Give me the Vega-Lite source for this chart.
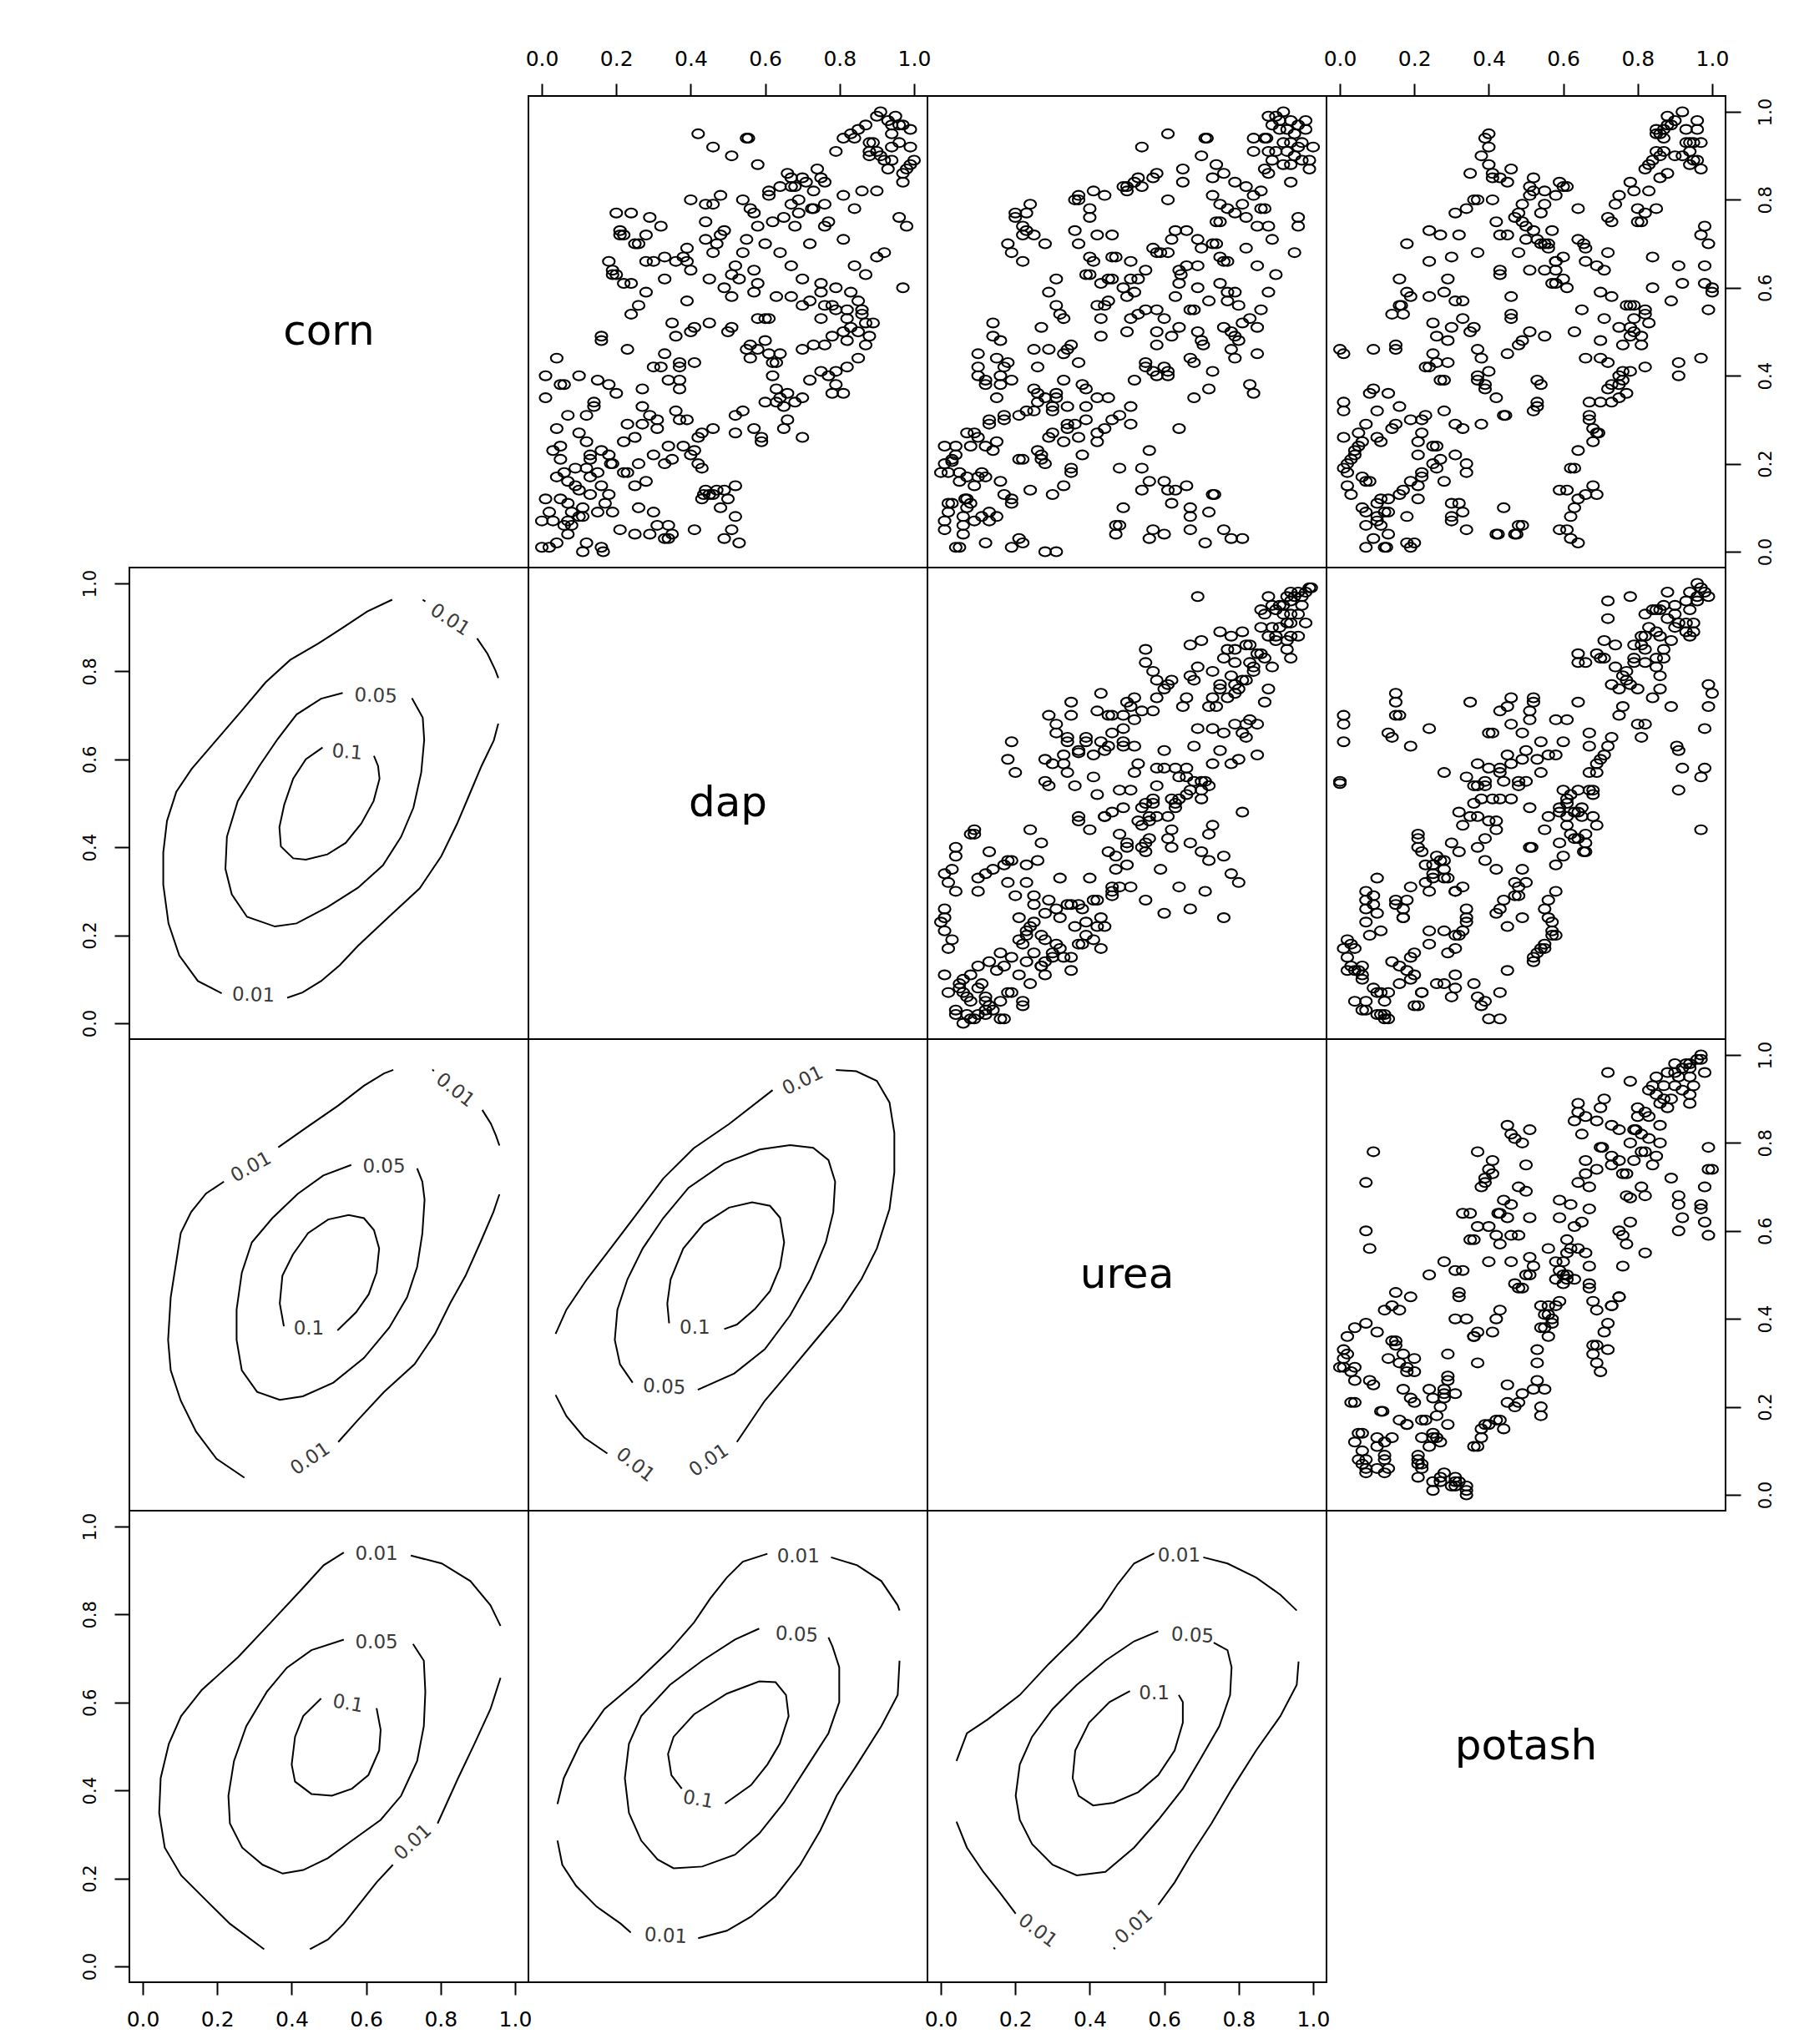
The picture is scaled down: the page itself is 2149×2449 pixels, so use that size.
{
"$schema":"https://vega.github.io/schema/vega-lite/v6.json",
"background":"white",
"padding":{"left":96,"top":57,"right":5,"bottom":5},
"config":{"view":{"stroke":"black","strokeWidth":2},"font":"DejaVu Sans",
"axis":{"domain":false,"grid":false,"ticks":true,"tickColor":"black","tickWidth":2,"labelColor":"black","labelFont":"DejaVu Sans","labelFlush":false,"labelOverlap":false},
"axisX":{"labelFontSize":25,"tickSize":15,"labelPadding":17},
"axisY":{"labelFontSize":21,"tickSize":18,"labelPadding":19,"labelAngle":-90}},
"datasets":{
"s12":[{"x":0.91,"y":1},{"x":0.9,"y":0.99},{"x":0.95,"y":0.99},{"x":0.97,"y":0.97},{"x":0.93,"y":0.98},{"x":0.94,"y":0.97},{"x":0.96,"y":0.97},{"x":0.99,"y":0.96},{"x":0.87,"y":0.97},{"x":0.85,"y":0.96},{"x":0.83,"y":0.95},{"x":0.81,"y":0.94},{"x":0.84,"y":0.94},{"x":0.94,"y":0.95},{"x":0.96,"y":0.93},{"x":0.99,"y":0.92},{"x":0.94,"y":0.92},{"x":0.88,"y":0.93},{"x":0.89,"y":0.93},{"x":0.88,"y":0.91},{"x":0.9,"y":0.91},{"x":0.88,"y":0.9},{"x":0.91,"y":0.9},{"x":0.92,"y":0.89},{"x":0.94,"y":0.89},{"x":0.93,"y":0.87},{"x":1,"y":0.89},{"x":0.99,"y":0.88},{"x":0.98,"y":0.87},{"x":0.97,"y":0.86},{"x":0.97,"y":0.84},{"x":0.79,"y":0.91},{"x":0.42,"y":0.95},{"x":0.46,"y":0.92},{"x":0.51,"y":0.9},{"x":0.55,"y":0.94},{"x":0.555,"y":0.94},{"x":0.58,"y":0.88},{"x":0.66,"y":0.86},{"x":0.67,"y":0.85},{"x":0.7,"y":0.85},{"x":0.71,"y":0.84},{"x":0.74,"y":0.87},{"x":0.75,"y":0.85},{"x":0.76,"y":0.84},{"x":0.68,"y":0.83},{"x":0.67,"y":0.83},{"x":0.73,"y":0.82},{"x":0.64,"y":0.83},{"x":0.61,"y":0.82},{"x":0.61,"y":0.81},{"x":0.69,"y":0.8},{"x":0.67,"y":0.79},{"x":0.81,"y":0.81},{"x":0.86,"y":0.82},{"x":0.9,"y":0.82},{"x":0.84,"y":0.78},{"x":0.76,"y":0.79},{"x":0.73,"y":0.78},{"x":0.725,"y":0.78},{"x":0.96,"y":0.76},{"x":0.98,"y":0.74},{"x":0.77,"y":0.75},{"x":0.76,"y":0.74},{"x":0.65,"y":0.76},{"x":0.62,"y":0.75},{"x":0.69,"y":0.77},{"x":0.68,"y":0.74},{"x":0.58,"y":0.74},{"x":0.57,"y":0.77},{"x":0.56,"y":0.78},{"x":0.54,"y":0.8},{"x":0.48,"y":0.81},{"x":0.46,"y":0.79},{"x":0.44,"y":0.79},{"x":0.4,"y":0.8},{"x":0.2,"y":0.77},{"x":0.24,"y":0.77},{"x":0.29,"y":0.76},{"x":0.32,"y":0.74},{"x":0.21,"y":0.73},{"x":0.21,"y":0.72},{"x":0.22,"y":0.72},{"x":0.28,"y":0.72},{"x":0.26,"y":0.7},{"x":0.25,"y":0.7},{"x":0.44,"y":0.75},{"x":0.44,"y":0.71},{"x":0.48,"y":0.72},{"x":0.49,"y":0.73},{"x":0.55,"y":0.71},{"x":0.6,"y":0.7},{"x":0.72,"y":0.7},{"x":0.81,"y":0.71},{"x":0.92,"y":0.68},{"x":0.9,"y":0.67},{"x":0.64,"y":0.68},{"x":0.54,"y":0.68},{"x":0.47,"y":0.7},{"x":0.46,"y":0.68},{"x":0.39,"y":0.69},{"x":0.38,"y":0.67},{"x":0.39,"y":0.66},{"x":0.36,"y":0.66},{"x":0.33,"y":0.67},{"x":0.3,"y":0.66},{"x":0.28,"y":0.66},{"x":0.18,"y":0.66},{"x":0.19,"y":0.64},{"x":0.2,"y":0.63},{"x":0.22,"y":0.61},{"x":0.24,"y":0.61},{"x":0.19,"y":0.63},{"x":0.33,"y":0.62},{"x":0.4,"y":0.64},{"x":0.45,"y":0.62},{"x":0.52,"y":0.65},{"x":0.51,"y":0.63},{"x":0.53,"y":0.62},{"x":0.57,"y":0.64},{"x":0.67,"y":0.65},{"x":0.7,"y":0.62},{"x":0.75,"y":0.61},{"x":0.84,"y":0.65},{"x":0.87,"y":0.63},{"x":0.97,"y":0.6},{"x":0.28,"y":0.59},{"x":0.26,"y":0.56},{"x":0.24,"y":0.54},{"x":0.39,"y":0.57},{"x":0.49,"y":0.6},{"x":0.51,"y":0.58},{"x":0.57,"y":0.59},{"x":0.58,"y":0.61},{"x":0.63,"y":0.58},{"x":0.67,"y":0.58},{"x":0.75,"y":0.59},{"x":0.79,"y":0.6},{"x":0.83,"y":0.59},{"x":0.85,"y":0.57},{"x":0.72,"y":0.57},{"x":0.7,"y":0.56},{"x":0.76,"y":0.56},{"x":0.78,"y":0.56},{"x":0.79,"y":0.55},{"x":0.82,"y":0.55},{"x":0.75,"y":0.53},{"x":0.86,"y":0.55},{"x":0.86,"y":0.54},{"x":0.82,"y":0.53},{"x":0.89,"y":0.52},{"x":0.87,"y":0.52},{"x":0.83,"y":0.51},{"x":0.81,"y":0.5},{"x":0.85,"y":0.5},{"x":0.78,"y":0.49},{"x":0.82,"y":0.48},{"x":0.88,"y":0.49},{"x":0.87,"y":0.47},{"x":0.85,"y":0.44},{"x":0.76,"y":0.47},{"x":0.73,"y":0.47},{"x":0.7,"y":0.46},{"x":0.6,"y":0.53},{"x":0.61,"y":0.53},{"x":0.58,"y":0.53},{"x":0.45,"y":0.52},{"x":0.41,"y":0.51},{"x":0.4,"y":0.5},{"x":0.35,"y":0.52},{"x":0.36,"y":0.49},{"x":0.51,"y":0.51},{"x":0.5,"y":0.5},{"x":0.16,"y":0.49},{"x":0.16,"y":0.48},{"x":0.23,"y":0.46},{"x":0.56,"y":0.47},{"x":0.55,"y":0.46},{"x":0.6,"y":0.48},{"x":0.58,"y":0.46},{"x":0.61,"y":0.45},{"x":0.64,"y":0.45},{"x":0.56,"y":0.44},{"x":0.63,"y":0.43},{"x":0.62,"y":0.43},{"x":0.62,"y":0.4},{"x":0.33,"y":0.45},{"x":0.37,"y":0.43},{"x":0.37,"y":0.42},{"x":0.41,"y":0.43},{"x":0.3,"y":0.42},{"x":0.32,"y":0.42},{"x":0.34,"y":0.39},{"x":0.37,"y":0.39},{"x":0.37,"y":0.37},{"x":0.75,"y":0.41},{"x":0.77,"y":0.4},{"x":0.79,"y":0.41},{"x":0.82,"y":0.42},{"x":0.72,"y":0.39},{"x":0.79,"y":0.38},{"x":0.81,"y":0.36},{"x":0.78,"y":0.36},{"x":0.7,"y":0.35},{"x":0.63,"y":0.37},{"x":0.66,"y":0.36},{"x":0.64,"y":0.35},{"x":0.6,"y":0.34},{"x":0.63,"y":0.34},{"x":0.65,"y":0.33},{"x":0.68,"y":0.34},{"x":0.66,"y":0.3},{"x":0.65,"y":0.28},{"x":0.7,"y":0.26},{"x":0.59,"y":0.26},{"x":0.59,"y":0.25},{"x":0.57,"y":0.28},{"x":0.54,"y":0.32},{"x":0.52,"y":0.31},{"x":0.52,"y":0.27},{"x":0.46,"y":0.28},{"x":0.43,"y":0.27},{"x":0.42,"y":0.26},{"x":0.41,"y":0.23},{"x":0.4,"y":0.22},{"x":0.42,"y":0.2},{"x":0.43,"y":0.19},{"x":0.38,"y":0.24},{"x":0.34,"y":0.24},{"x":0.35,"y":0.21},{"x":0.33,"y":0.2},{"x":0.3,"y":0.22},{"x":0.27,"y":0.37},{"x":0.04,"y":0.44},{"x":0.01,"y":0.4},{"x":0.01,"y":0.35},{"x":0.06,"y":0.38},{"x":0.05,"y":0.38},{"x":0.1,"y":0.4},{"x":0.15,"y":0.39},{"x":0.18,"y":0.38},{"x":0.2,"y":0.36},{"x":0.14,"y":0.34},{"x":0.14,"y":0.33},{"x":0.07,"y":0.31},{"x":0.12,"y":0.31},{"x":0.04,"y":0.28},{"x":0.1,"y":0.27},{"x":0.12,"y":0.25},{"x":0.05,"y":0.24},{"x":0.03,"y":0.23},{"x":0.05,"y":0.21},{"x":0.22,"y":0.25},{"x":0.25,"y":0.26},{"x":0.27,"y":0.33},{"x":0.29,"y":0.31},{"x":0.31,"y":0.3},{"x":0.31,"y":0.28},{"x":0.27,"y":0.29},{"x":0.23,"y":0.29},{"x":0.36,"y":0.32},{"x":0.37,"y":0.3},{"x":0.39,"y":0.3},{"x":0.18,"y":0.22},{"x":0.16,"y":0.23},{"x":0.13,"y":0.22},{"x":0.13,"y":0.21},{"x":0.12,"y":0.19},{"x":0.19,"y":0.2},{"x":0.185,"y":0.2},{"x":0.09,"y":0.19},{"x":0.06,"y":0.18},{"x":0.04,"y":0.17},{"x":0.07,"y":0.16},{"x":0.13,"y":0.17},{"x":0.09,"y":0.15},{"x":0.15,"y":0.18},{"x":0.1,"y":0.14},{"x":0.16,"y":0.15},{"x":0.18,"y":0.13},{"x":0.13,"y":0.13},{"x":0.26,"y":0.2},{"x":0.23,"y":0.18},{"x":0.22,"y":0.18},{"x":0.28,"y":0.16},{"x":0.25,"y":0.15},{"x":0.01,"y":0.12},{"x":0.05,"y":0.12},{"x":0.07,"y":0.11},{"x":0.11,"y":0.1},{"x":0.17,"y":0.11},{"x":0.19,"y":0.09},{"x":0.15,"y":0.09},{"x":0.08,"y":0.09},{"x":0.1,"y":0.08},{"x":0.11,"y":0.08},{"x":0.02,"y":0.09},{"x":0,"y":0.07},{"x":0.03,"y":0.07},{"x":0.07,"y":0.07},{"x":0.08,"y":0.06},{"x":0.06,"y":0.06},{"x":0.07,"y":0.04},{"x":0.12,"y":0.02},{"x":0.11,"y":0},{"x":0.16,"y":0.01},{"x":0.165,"y":0},{"x":0,"y":0.01},{"x":0.02,"y":0.01},{"x":0.04,"y":0.02},{"x":0.21,"y":0.05},{"x":0.25,"y":0.04},{"x":0.26,"y":0.1},{"x":0.29,"y":0.04},{"x":0.31,"y":0.06},{"x":0.3,"y":0.09},{"x":0.33,"y":0.03},{"x":0.34,"y":0.03},{"x":0.35,"y":0.04},{"x":0.34,"y":0.06},{"x":0.41,"y":0.05},{"x":0.43,"y":0.12},{"x":0.44,"y":0.14},{"x":0.46,"y":0.13},{"x":0.47,"y":0.14},{"x":0.49,"y":0.14},{"x":0.52,"y":0.15},{"x":0.5,"y":0.12},{"x":0.48,"y":0.1},{"x":0.52,"y":0.08},{"x":0.51,"y":0.05},{"x":0.49,"y":0.03},{"x":0.53,"y":0.02},{"x":0.45,"y":0.13},{"x":0.435,"y":0.13}],
"s13":[{"x":0.88,"y":0.99},{"x":0.9,"y":0.99},{"x":0.92,"y":1},{"x":0.91,"y":0.98},{"x":0.94,"y":0.98},{"x":0.96,"y":0.97},{"x":0.98,"y":0.98},{"x":0.98,"y":0.96},{"x":0.89,"y":0.97},{"x":0.91,"y":0.96},{"x":0.93,"y":0.96},{"x":0.95,"y":0.95},{"x":0.84,"y":0.94},{"x":0.87,"y":0.94},{"x":0.875,"y":0.94},{"x":0.92,"y":0.93},{"x":0.94,"y":0.93},{"x":0.97,"y":0.93},{"x":1,"y":0.92},{"x":0.88,"y":0.91},{"x":0.9,"y":0.91},{"x":0.93,"y":0.91},{"x":0.96,"y":0.92},{"x":0.95,"y":0.9},{"x":0.97,"y":0.89},{"x":0.99,"y":0.89},{"x":0.84,"y":0.91},{"x":0.89,"y":0.89},{"x":0.92,"y":0.88},{"x":0.94,"y":0.88},{"x":0.99,"y":0.87},{"x":0.87,"y":0.87},{"x":0.88,"y":0.86},{"x":0.94,"y":0.84},{"x":0.61,"y":0.95},{"x":0.54,"y":0.92},{"x":0.71,"y":0.94},{"x":0.715,"y":0.94},{"x":0.7,"y":0.9},{"x":0.74,"y":0.88},{"x":0.76,"y":0.86},{"x":0.73,"y":0.85},{"x":0.65,"y":0.87},{"x":0.65,"y":0.84},{"x":0.79,"y":0.84},{"x":0.82,"y":0.83},{"x":0.84,"y":0.81},{"x":0.86,"y":0.82},{"x":0.73,"y":0.81},{"x":0.75,"y":0.79},{"x":0.77,"y":0.78},{"x":0.79,"y":0.77},{"x":0.81,"y":0.79},{"x":0.86,"y":0.78},{"x":0.87,"y":0.78},{"x":0.82,"y":0.76},{"x":0.85,"y":0.74},{"x":0.88,"y":0.74},{"x":0.75,"y":0.75},{"x":0.74,"y":0.75},{"x":0.61,"y":0.8},{"x":0.58,"y":0.86},{"x":0.57,"y":0.85},{"x":0.53,"y":0.85},{"x":0.52,"y":0.84},{"x":0.54,"y":0.83},{"x":0.49,"y":0.83},{"x":0.5,"y":0.83},{"x":0.5,"y":0.82},{"x":0.41,"y":0.82},{"x":0.44,"y":0.81},{"x":0.37,"y":0.81},{"x":0.36,"y":0.8},{"x":0.37,"y":0.8},{"x":0.4,"y":0.78},{"x":0.4,"y":0.76},{"x":0.36,"y":0.73},{"x":0.37,"y":0.7},{"x":0.42,"y":0.72},{"x":0.46,"y":0.72},{"x":0.24,"y":0.79},{"x":0.23,"y":0.77},{"x":0.2,"y":0.77},{"x":0.2,"y":0.76},{"x":0.22,"y":0.74},{"x":0.23,"y":0.73},{"x":0.22,"y":0.72},{"x":0.25,"y":0.72},{"x":0.18,"y":0.7},{"x":0.19,"y":0.68},{"x":0.22,"y":0.66},{"x":0.28,"y":0.7},{"x":0.31,"y":0.62},{"x":0.29,"y":0.59},{"x":0.31,"y":0.56},{"x":0.32,"y":0.54},{"x":0.33,"y":0.53},{"x":0.27,"y":0.51},{"x":0.96,"y":0.76},{"x":0.96,"y":0.74},{"x":0.95,"y":0.68},{"x":0.89,"y":0.71},{"x":0.82,"y":0.69},{"x":0.74,"y":0.7},{"x":0.75,"y":0.67},{"x":0.76,"y":0.66},{"x":0.69,"y":0.71},{"x":0.7,"y":0.69},{"x":0.66,"y":0.73},{"x":0.63,"y":0.73},{"x":0.62,"y":0.71},{"x":0.57,"y":0.69},{"x":0.58,"y":0.68},{"x":0.59,"y":0.68},{"x":0.46,"y":0.67},{"x":0.47,"y":0.67},{"x":0.4,"y":0.67},{"x":0.41,"y":0.66},{"x":0.39,"y":0.63},{"x":0.4,"y":0.63},{"x":0.43,"y":0.61},{"x":0.45,"y":0.62},{"x":0.46,"y":0.62},{"x":0.51,"y":0.66},{"x":0.55,"y":0.64},{"x":0.53,"y":0.62},{"x":0.51,"y":0.62},{"x":0.49,"y":0.6},{"x":0.5,"y":0.58},{"x":0.52,"y":0.59},{"x":0.45,"y":0.57},{"x":0.44,"y":0.56},{"x":0.42,"y":0.56},{"x":0.43,"y":0.53},{"x":0.43,"y":0.49},{"x":0.5,"y":0.5},{"x":0.51,"y":0.53},{"x":0.53,"y":0.54},{"x":0.55,"y":0.55},{"x":0.58,"y":0.55},{"x":0.6,"y":0.53},{"x":0.58,"y":0.5},{"x":0.58,"y":0.47},{"x":0.62,"y":0.49},{"x":0.64,"y":0.51},{"x":0.69,"y":0.5},{"x":0.7,"y":0.48},{"x":0.705,"y":0.47},{"x":0.76,"y":0.51},{"x":0.78,"y":0.5},{"x":0.79,"y":0.49},{"x":0.8,"y":0.48},{"x":0.78,"y":0.46},{"x":0.79,"y":0.44},{"x":0.85,"y":0.45},{"x":0.81,"y":0.52},{"x":0.83,"y":0.53},{"x":0.85,"y":0.51},{"x":0.86,"y":0.55},{"x":0.8,"y":0.56},{"x":0.79,"y":0.59},{"x":0.77,"y":0.59},{"x":0.75,"y":0.61},{"x":0.77,"y":0.57},{"x":0.72,"y":0.57},{"x":0.88,"y":0.59},{"x":0.9,"y":0.63},{"x":0.85,"y":0.65},{"x":0.69,"y":0.6},{"x":0.67,"y":0.55},{"x":0.68,"y":0.55},{"x":0.63,"y":0.58},{"x":0.64,"y":0.61},{"x":0.64,"y":0.64},{"x":0.66,"y":0.65},{"x":0.69,"y":0.65},{"x":0.645,"y":0.63},{"x":0.61,"y":0.68},{"x":0.77,"y":0.66},{"x":0.73,"y":0.7},{"x":0.14,"y":0.52},{"x":0.14,"y":0.49},{"x":0.16,"y":0.48},{"x":0.1,"y":0.45},{"x":0.15,"y":0.44},{"x":0.18,"y":0.43},{"x":0.17,"y":0.42},{"x":0.1,"y":0.42},{"x":0.1,"y":0.4},{"x":0.12,"y":0.39},{"x":0.12,"y":0.38},{"x":0.16,"y":0.4},{"x":0.19,"y":0.39},{"x":0.16,"y":0.38},{"x":0.15,"y":0.35},{"x":0.25,"y":0.46},{"x":0.29,"y":0.46},{"x":0.35,"y":0.47},{"x":0.34,"y":0.46},{"x":0.33,"y":0.45},{"x":0.26,"y":0.42},{"x":0.37,"y":0.43},{"x":0.33,"y":0.39},{"x":0.38,"y":0.38},{"x":0.39,"y":0.37},{"x":0.25,"y":0.37},{"x":0.26,"y":0.36},{"x":0.31,"y":0.36},{"x":0.31,"y":0.35},{"x":0.26,"y":0.34},{"x":0.28,"y":0.35},{"x":0.3,"y":0.33},{"x":0.3,"y":0.32},{"x":0.34,"y":0.33},{"x":0.39,"y":0.33},{"x":0.42,"y":0.35},{"x":0.45,"y":0.35},{"x":0.52,"y":0.39},{"x":0.51,"y":0.33},{"x":0.23,"y":0.32},{"x":0.25,"y":0.32},{"x":0.21,"y":0.31},{"x":0.17,"y":0.31},{"x":0.17,"y":0.3},{"x":0.13,"y":0.3},{"x":0.13,"y":0.29},{"x":0.07,"y":0.27},{"x":0.09,"y":0.27},{"x":0.1,"y":0.26},{"x":0.08,"y":0.24},{"x":0.12,"y":0.24},{"x":0.15,"y":0.25},{"x":0.14,"y":0.23},{"x":0.04,"y":0.24},{"x":0.01,"y":0.24},{"x":0.04,"y":0.22},{"x":0.03,"y":0.21},{"x":0.03,"y":0.205},{"x":0.01,"y":0.2},{"x":0,"y":0.18},{"x":0.02,"y":0.18},{"x":0.05,"y":0.18},{"x":0.07,"y":0.17},{"x":0.05,"y":0.16},{"x":0.11,"y":0.18},{"x":0.12,"y":0.17},{"x":0.1,"y":0.17},{"x":0.09,"y":0.15},{"x":0.16,"y":0.16},{"x":0.21,"y":0.21},{"x":0.22,"y":0.21},{"x":0.26,"y":0.23},{"x":0.27,"y":0.22},{"x":0.27,"y":0.21},{"x":0.28,"y":0.2},{"x":0.35,"y":0.19},{"x":0.35,"y":0.18},{"x":0.38,"y":0.22},{"x":0.34,"y":0.29},{"x":0.36,"y":0.29},{"x":0.39,"y":0.3},{"x":0.34,"y":0.28},{"x":0.33,"y":0.25},{"x":0.37,"y":0.26},{"x":0.42,"y":0.27},{"x":0.42,"y":0.25},{"x":0.44,"y":0.28},{"x":0.29,"y":0.26},{"x":0.3,"y":0.27},{"x":0.46,"y":0.3},{"x":0.48,"y":0.31},{"x":0.51,"y":0.29},{"x":0.56,"y":0.23},{"x":0.48,"y":0.19},{"x":0.54,"y":0.19},{"x":0.56,"y":0.16},{"x":0.54,"y":0.14},{"x":0.6,"y":0.16},{"x":0.61,"y":0.14},{"x":0.63,"y":0.14},{"x":0.66,"y":0.15},{"x":0.62,"y":0.11},{"x":0.73,"y":0.13},{"x":0.735,"y":0.13},{"x":0.72,"y":0.09},{"x":0.67,"y":0.1},{"x":0.67,"y":0.08},{"x":0.67,"y":0.05},{"x":0.49,"y":0.1},{"x":0.48,"y":0.06},{"x":0.47,"y":0.06},{"x":0.47,"y":0.04},{"x":0.56,"y":0.03},{"x":0.57,"y":0.05},{"x":0.6,"y":0.04},{"x":0.71,"y":0.02},{"x":0.76,"y":0.05},{"x":0.78,"y":0.03},{"x":0.81,"y":0.03},{"x":0.64,"y":0.28},{"x":0.68,"y":0.35},{"x":0.72,"y":0.37},{"x":0.83,"y":0.38},{"x":0.84,"y":0.36},{"x":0.73,"y":0.41},{"x":0.67,"y":0.44},{"x":0.68,"y":0.43},{"x":0.61,"y":0.4},{"x":0.61,"y":0.41},{"x":0.6,"y":0.42},{"x":0.55,"y":0.43},{"x":0.55,"y":0.42},{"x":0.57,"y":0.41},{"x":0.58,"y":0.4},{"x":0.01,"y":0.05},{"x":0.01,"y":0.07},{"x":0.02,"y":0.11},{"x":0.03,"y":0.11},{"x":0.02,"y":0.09},{"x":0.06,"y":0.08},{"x":0.07,"y":0.1},{"x":0.07,"y":0.12},{"x":0.065,"y":0.12},{"x":0.08,"y":0.11},{"x":0.11,"y":0.08},{"x":0.13,"y":0.07},{"x":0.13,"y":0.09},{"x":0.15,"y":0.08},{"x":0.09,"y":0.07},{"x":0.06,"y":0.06},{"x":0.06,"y":0.04},{"x":0.04,"y":0.01},{"x":0.05,"y":0.01},{"x":0.12,"y":0.02},{"x":0.19,"y":0.01},{"x":0.21,"y":0.03},{"x":0.22,"y":0.02},{"x":0.28,"y":0},{"x":0.31,"y":0},{"x":0.24,"y":0.14},{"x":0.17,"y":0.13},{"x":0.19,"y":0.12},{"x":0.19,"y":0.11},{"x":0.3,"y":0.13},{"x":0.33,"y":0.15}],
"s14":[{"x":0.88,"y":0.99},{"x":0.92,"y":1},{"x":0.9,"y":0.98},{"x":0.88,"y":0.97},{"x":0.89,"y":0.97},{"x":0.85,"y":0.96},{"x":0.87,"y":0.96},{"x":0.86,"y":0.95},{"x":0.85,"y":0.95},{"x":0.87,"y":0.94},{"x":0.96,"y":0.98},{"x":0.93,"y":0.96},{"x":0.96,"y":0.96},{"x":0.94,"y":0.93},{"x":0.95,"y":0.93},{"x":0.97,"y":0.93},{"x":0.93,"y":0.93},{"x":0.94,"y":0.91},{"x":0.92,"y":0.9},{"x":0.9,"y":0.9},{"x":0.96,"y":0.89},{"x":0.97,"y":0.87},{"x":0.94,"y":0.88},{"x":0.95,"y":0.89},{"x":0.85,"y":0.91},{"x":0.87,"y":0.91},{"x":0.86,"y":0.9},{"x":0.84,"y":0.89},{"x":0.83,"y":0.88},{"x":0.82,"y":0.87},{"x":0.88,"y":0.86},{"x":0.86,"y":0.85},{"x":0.78,"y":0.84},{"x":0.75,"y":0.81},{"x":0.74,"y":0.79},{"x":0.79,"y":0.82},{"x":0.83,"y":0.82},{"x":0.8,"y":0.78},{"x":0.85,"y":0.78},{"x":0.82,"y":0.77},{"x":0.8,"y":0.75},{"x":0.81,"y":0.75},{"x":0.72,"y":0.76},{"x":0.73,"y":0.75},{"x":0.4,"y":0.95},{"x":0.39,"y":0.94},{"x":0.4,"y":0.92},{"x":0.38,"y":0.9},{"x":0.4,"y":0.88},{"x":0.41,"y":0.86},{"x":0.41,"y":0.85},{"x":0.43,"y":0.85},{"x":0.45,"y":0.84},{"x":0.46,"y":0.87},{"x":0.52,"y":0.85},{"x":0.51,"y":0.83},{"x":0.52,"y":0.82},{"x":0.55,"y":0.82},{"x":0.58,"y":0.81},{"x":0.59,"y":0.84},{"x":0.6,"y":0.83},{"x":0.61,"y":0.83},{"x":0.51,"y":0.81},{"x":0.49,"y":0.79},{"x":0.55,"y":0.79},{"x":0.54,"y":0.77},{"x":0.47,"y":0.76},{"x":0.48,"y":0.77},{"x":0.49,"y":0.75},{"x":0.5,"y":0.74},{"x":0.52,"y":0.73},{"x":0.5,"y":0.71},{"x":0.53,"y":0.71},{"x":0.55,"y":0.7},{"x":0.56,"y":0.69},{"x":0.57,"y":0.73},{"x":0.58,"y":0.66},{"x":0.6,"y":0.67},{"x":0.64,"y":0.71},{"x":0.66,"y":0.69},{"x":0.655,"y":0.7},{"x":0.66,"y":0.66},{"x":0.64,"y":0.78},{"x":0.72,"y":0.68},{"x":0.69,"y":0.65},{"x":0.71,"y":0.64},{"x":0.7,"y":0.59},{"x":0.73,"y":0.58},{"x":0.77,"y":0.56},{"x":0.78,"y":0.56},{"x":0.79,"y":0.56},{"x":0.82,"y":0.54},{"x":0.82,"y":0.55},{"x":0.79,"y":0.53},{"x":0.83,"y":0.52},{"x":0.78,"y":0.51},{"x":0.79,"y":0.5},{"x":0.78,"y":0.49},{"x":0.81,"y":0.49},{"x":0.81,"y":0.47},{"x":0.76,"y":0.47},{"x":0.71,"y":0.53},{"x":0.75,"y":0.51},{"x":0.7,"y":0.48},{"x":0.7,"y":0.44},{"x":0.72,"y":0.43},{"x":0.66,"y":0.44},{"x":0.76,"y":0.41},{"x":0.78,"y":0.41},{"x":0.75,"y":0.4},{"x":0.82,"y":0.42},{"x":0.76,"y":0.39},{"x":0.75,"y":0.38},{"x":0.73,"y":0.38},{"x":0.72,"y":0.37},{"x":0.75,"y":0.35},{"x":0.77,"y":0.36},{"x":0.73,"y":0.34},{"x":0.7,"y":0.34},{"x":0.67,"y":0.34},{"x":0.67,"y":0.31},{"x":0.67,"y":0.3},{"x":0.68,"y":0.28},{"x":0.69,"y":0.27},{"x":0.695,"y":0.27},{"x":0.68,"y":0.25},{"x":0.64,"y":0.23},{"x":0.62,"y":0.19},{"x":0.63,"y":0.19},{"x":0.59,"y":0.14},{"x":0.61,"y":0.14},{"x":0.68,"y":0.15},{"x":0.69,"y":0.13},{"x":0.66,"y":0.13},{"x":0.64,"y":0.12},{"x":0.63,"y":0.1},{"x":0.62,"y":0.08},{"x":0.59,"y":0.05},{"x":0.61,"y":0.05},{"x":0.62,"y":0.03},{"x":0.64,"y":0.02},{"x":0.65,"y":0.55},{"x":0.63,"y":0.5},{"x":0.84,"y":0.67},{"x":0.84,"y":0.6},{"x":0.89,"y":0.57},{"x":0.91,"y":0.65},{"x":0.92,"y":0.61},{"x":0.98,"y":0.65},{"x":0.98,"y":0.61},{"x":1,"y":0.6},{"x":1,"y":0.59},{"x":0.99,"y":0.55},{"x":0.98,"y":0.74},{"x":0.97,"y":0.72},{"x":0.99,"y":0.7},{"x":0.91,"y":0.43},{"x":0.91,"y":0.4},{"x":0.97,"y":0.44},{"x":0.37,"y":0.68},{"x":0.34,"y":0.78},{"x":0.31,"y":0.77},{"x":0.35,"y":0.86},{"x":0.36,"y":0.8},{"x":0.37,"y":0.8},{"x":0.41,"y":0.8},{"x":0.42,"y":0.75},{"x":0.43,"y":0.72},{"x":0.45,"y":0.72},{"x":0.48,"y":0.68},{"x":0.54,"y":0.7},{"x":0.56,"y":0.7},{"x":0.58,"y":0.66},{"x":0.6,"y":0.62},{"x":0.61,"y":0.6},{"x":0.58,"y":0.61},{"x":0.57,"y":0.61},{"x":0.55,"y":0.64},{"x":0.58,"y":0.64},{"x":0.51,"y":0.64},{"x":0.43,"y":0.64},{"x":0.43,"y":0.63},{"x":0.46,"y":0.58},{"x":0.46,"y":0.53},{"x":0.46,"y":0.54},{"x":0.51,"y":0.5},{"x":0.49,"y":0.48},{"x":0.48,"y":0.47},{"x":0.55,"y":0.49},{"x":0.45,"y":0.45},{"x":0.4,"y":0.41},{"x":0.37,"y":0.46},{"x":0.38,"y":0.44},{"x":0.37,"y":0.4},{"x":0.37,"y":0.39},{"x":0.39,"y":0.38},{"x":0.39,"y":0.37},{"x":0.42,"y":0.35},{"x":0.44,"y":0.31},{"x":0.445,"y":0.31},{"x":0.38,"y":0.29},{"x":0.31,"y":0.29},{"x":0.33,"y":0.28},{"x":0.28,"y":0.32},{"x":0.36,"y":0.51},{"x":0.35,"y":0.5},{"x":0.33,"y":0.53},{"x":0.3,"y":0.51},{"x":0.25,"y":0.52},{"x":0.26,"y":0.49},{"x":0.29,"y":0.48},{"x":0.25,"y":0.45},{"x":0.26,"y":0.43},{"x":0.29,"y":0.43},{"x":0.23,"y":0.42},{"x":0.24,"y":0.42},{"x":0.27,"y":0.39},{"x":0.28,"y":0.39},{"x":0.53,"y":0.39},{"x":0.54,"y":0.38},{"x":0.53,"y":0.34},{"x":0.52,"y":0.32},{"x":0.53,"y":0.33},{"x":0.31,"y":0.57},{"x":0.33,"y":0.57},{"x":0.28,"y":0.59},{"x":0.29,"y":0.62},{"x":0.3,"y":0.67},{"x":0.24,"y":0.66},{"x":0.24,"y":0.58},{"x":0.18,"y":0.7},{"x":0.16,"y":0.62},{"x":0.18,"y":0.59},{"x":0.19,"y":0.58},{"x":0.16,"y":0.56},{"x":0.165,"y":0.56},{"x":0.14,"y":0.54},{"x":0.17,"y":0.54},{"x":0.24,"y":0.73},{"x":0.27,"y":0.72},{"x":0.32,"y":0.72},{"x":0,"y":0.46},{"x":0.01,"y":0.45},{"x":0.09,"y":0.46},{"x":0.15,"y":0.47},{"x":0.15,"y":0.46},{"x":0.09,"y":0.37},{"x":0.08,"y":0.36},{"x":0.13,"y":0.36},{"x":0.16,"y":0.33},{"x":0.1,"y":0.32},{"x":0.07,"y":0.29},{"x":0.01,"y":0.34},{"x":0.01,"y":0.32},{"x":0.05,"y":0.27},{"x":0.01,"y":0.26},{"x":0.1,"y":0.26},{"x":0.11,"y":0.25},{"x":0.14,"y":0.28},{"x":0.15,"y":0.29},{"x":0.19,"y":0.3},{"x":0.23,"y":0.31},{"x":0.22,"y":0.3},{"x":0.22,"y":0.27},{"x":0.21,"y":0.25},{"x":0.25,"y":0.24},{"x":0.26,"y":0.24},{"x":0.27,"y":0.21},{"x":0.25,"y":0.2},{"x":0.21,"y":0.22},{"x":0.31,"y":0.22},{"x":0.34,"y":0.2},{"x":0.34,"y":0.18},{"x":0.26,"y":0.19},{"x":0.06,"y":0.25},{"x":0.05,"y":0.24},{"x":0.04,"y":0.23},{"x":0.04,"y":0.22},{"x":0.03,"y":0.21},{"x":0.02,"y":0.2},{"x":0.01,"y":0.19},{"x":0.02,"y":0.18},{"x":0.02,"y":0.15},{"x":0.03,"y":0.13},{"x":0.06,"y":0.17},{"x":0.07,"y":0.16},{"x":0.08,"y":0.16},{"x":0.19,"y":0.16},{"x":0.22,"y":0.17},{"x":0.22,"y":0.18},{"x":0.21,"y":0.15},{"x":0.21,"y":0.12},{"x":0.28,"y":0.16},{"x":0.17,"y":0.14},{"x":0.16,"y":0.13},{"x":0.13,"y":0.12},{"x":0.11,"y":0.12},{"x":0.1,"y":0.11},{"x":0.06,"y":0.1},{"x":0.07,"y":0.09},{"x":0.13,"y":0.09},{"x":0.12,"y":0.09},{"x":0.1,"y":0.08},{"x":0.1,"y":0.07},{"x":0.11,"y":0.06},{"x":0.18,"y":0.08},{"x":0.07,"y":0.06},{"x":0.13,"y":0.04},{"x":0.09,"y":0.03},{"x":0.07,"y":0.01},{"x":0.12,"y":0.01},{"x":0.125,"y":0.01},{"x":0.18,"y":0.02},{"x":0.2,"y":0.02},{"x":0.19,"y":0.01},{"x":0.3,"y":0.11},{"x":0.32,"y":0.11},{"x":0.33,"y":0.09},{"x":0.3,"y":0.08},{"x":0.3,"y":0.07},{"x":0.34,"y":0.05},{"x":0.44,"y":0.1},{"x":0.42,"y":0.04},{"x":0.425,"y":0.04},{"x":0.47,"y":0.04},{"x":0.475,"y":0.04},{"x":0.48,"y":0.06},{"x":0.49,"y":0.06}],
"s23":[{"x":0.99,"y":0.99},{"x":0.98,"y":0.98},{"x":0.995,"y":0.99},{"x":0.96,"y":0.98},{"x":0.94,"y":0.98},{"x":0.93,"y":0.97},{"x":0.88,"y":0.97},{"x":0.97,"y":0.97},{"x":0.95,"y":0.97},{"x":0.94,"y":0.96},{"x":0.97,"y":0.95},{"x":0.92,"y":0.95},{"x":0.91,"y":0.95},{"x":0.89,"y":0.95},{"x":0.86,"y":0.94},{"x":0.87,"y":0.93},{"x":0.9,"y":0.94},{"x":0.92,"y":0.93},{"x":0.94,"y":0.93},{"x":0.96,"y":0.93},{"x":0.98,"y":0.91},{"x":0.94,"y":0.91},{"x":0.93,"y":0.91},{"x":0.91,"y":0.9},{"x":0.89,"y":0.9},{"x":0.86,"y":0.9},{"x":0.96,"y":0.88},{"x":0.94,"y":0.88},{"x":0.93,"y":0.87},{"x":0.9,"y":0.88},{"x":0.88,"y":0.88},{"x":0.9,"y":0.87},{"x":0.93,"y":0.85},{"x":0.94,"y":0.83},{"x":0.69,"y":0.97},{"x":0.75,"y":0.89},{"x":0.81,"y":0.89},{"x":0.78,"y":0.88},{"x":0.82,"y":0.86},{"x":0.83,"y":0.86},{"x":0.79,"y":0.85},{"x":0.77,"y":0.85},{"x":0.76,"y":0.83},{"x":0.79,"y":0.82},{"x":0.85,"y":0.84},{"x":0.86,"y":0.84},{"x":0.87,"y":0.83},{"x":0.89,"y":0.81},{"x":0.83,"y":0.82},{"x":0.84,"y":0.81},{"x":0.84,"y":0.8},{"x":0.82,"y":0.78},{"x":0.81,"y":0.78},{"x":0.79,"y":0.77},{"x":0.79,"y":0.75},{"x":0.77,"y":0.74},{"x":0.8,"y":0.76},{"x":0.88,"y":0.76},{"x":0.87,"y":0.73},{"x":0.78,"y":0.79},{"x":0.73,"y":0.8},{"x":0.75,"y":0.77},{"x":0.75,"y":0.76},{"x":0.73,"y":0.74},{"x":0.74,"y":0.72},{"x":0.72,"y":0.72},{"x":0.69,"y":0.81},{"x":0.68,"y":0.78},{"x":0.67,"y":0.79},{"x":0.67,"y":0.86},{"x":0.7,"y":0.87},{"x":0.66,"y":0.74},{"x":0.65,"y":0.72},{"x":0.62,"y":0.78},{"x":0.61,"y":0.77},{"x":0.6,"y":0.76},{"x":0.58,"y":0.74},{"x":0.58,"y":0.78},{"x":0.57,"y":0.8},{"x":0.55,"y":0.85},{"x":0.55,"y":0.82},{"x":0.52,"y":0.74},{"x":0.51,"y":0.72},{"x":0.54,"y":0.71},{"x":0.5,"y":0.73},{"x":0.52,"y":0.69},{"x":0.57,"y":0.71},{"x":0.79,"y":0.68},{"x":0.82,"y":0.68},{"x":0.83,"y":0.69},{"x":0.85,"y":0.68},{"x":0.81,"y":0.66},{"x":0.82,"y":0.65},{"x":0.76,"y":0.66},{"x":0.73,"y":0.67},{"x":0.69,"y":0.67},{"x":0.85,"y":0.61},{"x":0.8,"y":0.6},{"x":0.78,"y":0.59},{"x":0.75,"y":0.62},{"x":0.73,"y":0.59},{"x":0.68,"y":0.63},{"x":0.6,"y":0.62},{"x":0.66,"y":0.58},{"x":0.63,"y":0.58},{"x":0.64,"y":0.56},{"x":0.66,"y":0.56},{"x":0.68,"y":0.55},{"x":0.7,"y":0.55},{"x":0.71,"y":0.55},{"x":0.7,"y":0.53},{"x":0.72,"y":0.54},{"x":0.7,"y":0.51},{"x":0.67,"y":0.53},{"x":0.66,"y":0.52},{"x":0.64,"y":0.51},{"x":0.62,"y":0.51},{"x":0.63,"y":0.5},{"x":0.63,"y":0.49},{"x":0.58,"y":0.54},{"x":0.6,"y":0.58},{"x":0.61,"y":0.47},{"x":0.57,"y":0.51},{"x":0.55,"y":0.5},{"x":0.57,"y":0.5},{"x":0.58,"y":0.47},{"x":0.56,"y":0.46},{"x":0.54,"y":0.45},{"x":0.53,"y":0.46},{"x":0.81,"y":0.48},{"x":0.73,"y":0.45},{"x":0.72,"y":0.43},{"x":0.49,"y":0.7},{"x":0.49,"y":0.67},{"x":0.46,"y":0.66},{"x":0.45,"y":0.7},{"x":0.42,"y":0.71},{"x":0.43,"y":0.75},{"x":0.46,"y":0.7},{"x":0.49,"y":0.64},{"x":0.49,"y":0.63},{"x":0.52,"y":0.63},{"x":0.53,"y":0.59},{"x":0.52,"y":0.57},{"x":0.51,"y":0.53},{"x":0.48,"y":0.53},{"x":0.49,"y":0.49},{"x":0.46,"y":0.48},{"x":0.44,"y":0.47},{"x":0.35,"y":0.73},{"x":0.35,"y":0.7},{"x":0.29,"y":0.7},{"x":0.31,"y":0.68},{"x":0.31,"y":0.66},{"x":0.34,"y":0.65},{"x":0.34,"y":0.64},{"x":0.33,"y":0.61},{"x":0.33,"y":0.59},{"x":0.34,"y":0.57},{"x":0.28,"y":0.55},{"x":0.29,"y":0.54},{"x":0.28,"y":0.6},{"x":0.3,"y":0.59},{"x":0.37,"y":0.62},{"x":0.39,"y":0.65},{"x":0.39,"y":0.64},{"x":0.37,"y":0.615},{"x":0.41,"y":0.61},{"x":0.43,"y":0.64},{"x":0.44,"y":0.62},{"x":0.45,"y":0.63},{"x":0.41,"y":0.56},{"x":0.36,"y":0.54},{"x":0.42,"y":0.52},{"x":0.37,"y":0.47},{"x":0.37,"y":0.46},{"x":0.4,"y":0.44},{"x":0.19,"y":0.64},{"x":0.18,"y":0.6},{"x":0.2,"y":0.57},{"x":0.08,"y":0.43},{"x":0.09,"y":0.43},{"x":0.09,"y":0.44},{"x":0.04,"y":0.4},{"x":0.04,"y":0.38},{"x":0.13,"y":0.39},{"x":0.01,"y":0.34},{"x":0.03,"y":0.35},{"x":0.02,"y":0.32},{"x":0.04,"y":0.3},{"x":0.1,"y":0.33},{"x":0.12,"y":0.34},{"x":0.14,"y":0.35},{"x":0.17,"y":0.36},{"x":0.19,"y":0.37},{"x":0.18,"y":0.37},{"x":0.1,"y":0.3},{"x":0.23,"y":0.36},{"x":0.26,"y":0.37},{"x":0.24,"y":0.44},{"x":0.27,"y":0.41},{"x":0.18,"y":0.32},{"x":0.23,"y":0.32},{"x":0.2,"y":0.29},{"x":0.25,"y":0.29},{"x":0.25,"y":0.27},{"x":0.21,"y":0.24},{"x":0.32,"y":0.33},{"x":0.29,"y":0.28},{"x":0.31,"y":0.26},{"x":0.32,"y":0.24},{"x":0.28,"y":0.25},{"x":0.35,"y":0.27},{"x":0.34,"y":0.27},{"x":0.37,"y":0.27},{"x":0.38,"y":0.26},{"x":0.36,"y":0.22},{"x":0.4,"y":0.33},{"x":0.39,"y":0.23},{"x":0.42,"y":0.22},{"x":0.43,"y":0.24},{"x":0.44,"y":0.22},{"x":0.43,"y":0.17},{"x":0.41,"y":0.19},{"x":0.39,"y":0.2},{"x":0.38,"y":0.18},{"x":0.37,"y":0.18},{"x":0.25,"y":0.23},{"x":0.24,"y":0.22},{"x":0.23,"y":0.21},{"x":0.21,"y":0.19},{"x":0.22,"y":0.18},{"x":0.23,"y":0.2},{"x":0.27,"y":0.2},{"x":0.28,"y":0.19},{"x":0.31,"y":0.18},{"x":0.3,"y":0.16},{"x":0.32,"y":0.17},{"x":0.33,"y":0.15},{"x":0.35,"y":0.15},{"x":0.3,"y":0.15},{"x":0.27,"y":0.13},{"x":0.28,"y":0.14},{"x":0.25,"y":0.16},{"x":0.23,"y":0.14},{"x":0.19,"y":0.15},{"x":0.17,"y":0.13},{"x":0.16,"y":0.16},{"x":0.13,"y":0.14},{"x":0.15,"y":0.12},{"x":0.1,"y":0.13},{"x":0.08,"y":0.11},{"x":0.06,"y":0.1},{"x":0.05,"y":0.09},{"x":0.05,"y":0.08},{"x":0.11,"y":0.09},{"x":0.1,"y":0.08},{"x":0.02,"y":0.07},{"x":0.06,"y":0.07},{"x":0.07,"y":0.06},{"x":0.12,"y":0.06},{"x":0.08,"y":0.05},{"x":0.18,"y":0.07},{"x":0.19,"y":0.07},{"x":0.16,"y":0.05},{"x":0.22,"y":0.05},{"x":0.22,"y":0.04},{"x":0.21,"y":0.11},{"x":0.24,"y":0.09},{"x":0.28,"y":0.11},{"x":0.35,"y":0.12},{"x":0.27,"y":0.13},{"x":0.01,"y":0.26},{"x":0.01,"y":0.24},{"x":0,"y":0.23},{"x":0.01,"y":0.21},{"x":0.03,"y":0.19},{"x":0.02,"y":0.17},{"x":0.01,"y":0.11},{"x":0.04,"y":0.03},{"x":0.04,"y":0.02},{"x":0.06,"y":0},{"x":0.07,"y":0.02},{"x":0.08,"y":0.01},{"x":0.09,"y":0.01},{"x":0.12,"y":0.03},{"x":0.12,"y":0.05},{"x":0.13,"y":0.04},{"x":0.14,"y":0.03},{"x":0.16,"y":0.01},{"x":0.17,"y":0.01},{"x":0.1,"y":0.02},{"x":0.12,"y":0.02},{"x":0.45,"y":0.39},{"x":0.47,"y":0.38},{"x":0.5,"y":0.36},{"x":0.5,"y":0.41},{"x":0.48,"y":0.43},{"x":0.44,"y":0.47},{"x":0.41,"y":0.28},{"x":0.42,"y":0.28},{"x":0.46,"y":0.31},{"x":0.46,"y":0.3},{"x":0.46,"y":0.29},{"x":0.48,"y":0.31},{"x":0.51,"y":0.31},{"x":0.47,"y":0.35},{"x":0.5,"y":0.4},{"x":0.54,"y":0.4},{"x":0.55,"y":0.41},{"x":0.55,"y":0.39},{"x":0.56,"y":0.42},{"x":0.61,"y":0.42},{"x":0.62,"y":0.4},{"x":0.62,"y":0.44},{"x":0.67,"y":0.41},{"x":0.7,"y":0.39},{"x":0.72,"y":0.37},{"x":0.76,"y":0.38},{"x":0.78,"y":0.34},{"x":0.8,"y":0.32},{"x":0.71,"y":0.3},{"x":0.64,"y":0.31},{"x":0.59,"y":0.35},{"x":0.55,"y":0.28},{"x":0.6,"y":0.25},{"x":0.67,"y":0.26},{"x":0.76,"y":0.24},{"x":0.58,"y":0.58},{"x":0.56,"y":0.47},{"x":0.54,"y":0.49}],
"s24":[{"x":0.96,"y":1},{"x":0.97,"y":0.99},{"x":0.98,"y":0.98},{"x":0.99,"y":0.97},{"x":0.96,"y":0.97},{"x":0.94,"y":0.98},{"x":0.88,"y":0.98},{"x":0.78,"y":0.97},{"x":0.72,"y":0.96},{"x":0.93,"y":0.96},{"x":0.96,"y":0.96},{"x":0.9,"y":0.95},{"x":0.87,"y":0.95},{"x":0.86,"y":0.94},{"x":0.84,"y":0.94},{"x":0.82,"y":0.93},{"x":0.85,"y":0.94},{"x":0.94,"y":0.94},{"x":0.9,"y":0.93},{"x":0.88,"y":0.92},{"x":0.91,"y":0.91},{"x":0.93,"y":0.91},{"x":0.95,"y":0.91},{"x":0.9,"y":0.9},{"x":0.93,"y":0.89},{"x":0.95,"y":0.89},{"x":0.94,"y":0.88},{"x":0.83,"y":0.9},{"x":0.85,"y":0.89},{"x":0.82,"y":0.88},{"x":0.81,"y":0.88},{"x":0.86,"y":0.88},{"x":0.89,"y":0.87},{"x":0.72,"y":0.92},{"x":0.71,"y":0.87},{"x":0.74,"y":0.86},{"x":0.69,"y":0.84},{"x":0.7,"y":0.83},{"x":0.71,"y":0.83},{"x":0.79,"y":0.86},{"x":0.81,"y":0.86},{"x":0.82,"y":0.85},{"x":0.87,"y":0.85},{"x":0.85,"y":0.83},{"x":0.87,"y":0.83},{"x":0.79,"y":0.83},{"x":0.82,"y":0.82},{"x":0.85,"y":0.81},{"x":0.86,"y":0.79},{"x":0.79,"y":0.82},{"x":0.77,"y":0.8},{"x":0.74,"y":0.81},{"x":0.76,"y":0.79},{"x":0.73,"y":0.77},{"x":0.75,"y":0.76},{"x":0.78,"y":0.77},{"x":0.8,"y":0.76},{"x":0.77,"y":0.78},{"x":0.86,"y":0.76},{"x":0.84,"y":0.74},{"x":0.89,"y":0.72},{"x":0.76,"y":0.72},{"x":0.75,"y":0.7},{"x":0.64,"y":0.84},{"x":0.64,"y":0.82},{"x":0.66,"y":0.82},{"x":0.64,"y":0.73},{"x":0.99,"y":0.77},{"x":1,"y":0.75},{"x":0.99,"y":0.72},{"x":0.98,"y":0.67},{"x":0.91,"y":0.62},{"x":0.905,"y":0.63},{"x":0.92,"y":0.58},{"x":0.98,"y":0.58},{"x":0.97,"y":0.56},{"x":0.91,"y":0.53},{"x":0.97,"y":0.44},{"x":0.8,"y":0.68},{"x":0.81,"y":0.65},{"x":0.82,"y":0.68},{"x":0.67,"y":0.66},{"x":0.67,"y":0.63},{"x":0.73,"y":0.65},{"x":0.72,"y":0.63},{"x":0.71,"y":0.61},{"x":0.7,"y":0.6},{"x":0.69,"y":0.59},{"x":0.67,"y":0.57},{"x":0.69,"y":0.57},{"x":0.58,"y":0.69},{"x":0.61,"y":0.69},{"x":0.6,"y":0.64},{"x":0.54,"y":0.64},{"x":0.54,"y":0.57},{"x":0.58,"y":0.61},{"x":0.56,"y":0.61},{"x":0.53,"y":0.6},{"x":0.5,"y":0.62},{"x":0.49,"y":0.6},{"x":0.45,"y":0.61},{"x":0.46,"y":0.59},{"x":0.43,"y":0.58},{"x":0.43,"y":0.57},{"x":0.44,"y":0.55},{"x":0.4,"y":0.66},{"x":0.41,"y":0.66},{"x":0.46,"y":0.68},{"x":0.49,"y":0.66},{"x":0.51,"y":0.69},{"x":0.51,"y":0.71},{"x":0.52,"y":0.73},{"x":0.52,"y":0.74},{"x":0.46,"y":0.74},{"x":0.45,"y":0.72},{"x":0.43,"y":0.71},{"x":0.35,"y":0.73},{"x":0.5,"y":0.55},{"x":0.48,"y":0.55},{"x":0.48,"y":0.54},{"x":0.41,"y":0.51},{"x":0.43,"y":0.51},{"x":0.46,"y":0.51},{"x":0.38,"y":0.51},{"x":0.36,"y":0.5},{"x":0.37,"y":0.54},{"x":0.39,"y":0.55},{"x":0.39,"y":0.54},{"x":0.34,"y":0.56},{"x":0.36,"y":0.54},{"x":0.37,"y":0.59},{"x":0.4,"y":0.58},{"x":0.28,"y":0.57},{"x":0.24,"y":0.67},{"x":0.19,"y":0.63},{"x":0.15,"y":0.75},{"x":0.15,"y":0.73},{"x":0.15,"y":0.7},{"x":0.16,"y":0.7},{"x":0.13,"y":0.66},{"x":0.14,"y":0.65},{"x":0.01,"y":0.7},{"x":0.01,"y":0.68},{"x":0.01,"y":0.64},{"x":0,"y":0.55},{"x":0,"y":0.545},{"x":0.6,"y":0.53},{"x":0.64,"y":0.53},{"x":0.67,"y":0.53},{"x":0.68,"y":0.52},{"x":0.68,"y":0.53},{"x":0.62,"y":0.52},{"x":0.61,"y":0.51},{"x":0.61,"y":0.5},{"x":0.65,"y":0.49},{"x":0.64,"y":0.48},{"x":0.63,"y":0.48},{"x":0.61,"y":0.47},{"x":0.59,"y":0.49},{"x":0.59,"y":0.48},{"x":0.65,"y":0.47},{"x":0.68,"y":0.47},{"x":0.69,"y":0.45},{"x":0.66,"y":0.43},{"x":0.61,"y":0.45},{"x":0.62,"y":0.43},{"x":0.63,"y":0.42},{"x":0.64,"y":0.42},{"x":0.66,"y":0.41},{"x":0.66,"y":0.39},{"x":0.655,"y":0.39},{"x":0.59,"y":0.41},{"x":0.6,"y":0.38},{"x":0.58,"y":0.36},{"x":0.56,"y":0.47},{"x":0.55,"y":0.44},{"x":0.51,"y":0.49},{"x":0.51,"y":0.4},{"x":0.515,"y":0.4},{"x":0.49,"y":0.35},{"x":0.47,"y":0.32},{"x":0.48,"y":0.31},{"x":0.5,"y":0.32},{"x":0.47,"y":0.29},{"x":0.48,"y":0.29},{"x":0.44,"y":0.28},{"x":0.43,"y":0.26},{"x":0.42,"y":0.25},{"x":0.49,"y":0.24},{"x":0.45,"y":0.22},{"x":0.56,"y":0.28},{"x":0.58,"y":0.3},{"x":0.55,"y":0.26},{"x":0.56,"y":0.24},{"x":0.57,"y":0.23},{"x":0.57,"y":0.21},{"x":0.58,"y":0.2},{"x":0.57,"y":0.2},{"x":0.55,"y":0.18},{"x":0.54,"y":0.17},{"x":0.55,"y":0.17},{"x":0.53,"y":0.16},{"x":0.52,"y":0.15},{"x":0.52,"y":0.14},{"x":0.32,"y":0.48},{"x":0.33,"y":0.45},{"x":0.37,"y":0.47},{"x":0.4,"y":0.46},{"x":0.42,"y":0.46},{"x":0.42,"y":0.44},{"x":0.35,"y":0.47},{"x":0.39,"y":0.42},{"x":0.37,"y":0.4},{"x":0.39,"y":0.37},{"x":0.42,"y":0.35},{"x":0.32,"y":0.39},{"x":0.3,"y":0.41},{"x":0.33,"y":0.31},{"x":0.31,"y":0.3},{"x":0.31,"y":0.3},{"x":0.29,"y":0.33},{"x":0.28,"y":0.33},{"x":0.28,"y":0.35},{"x":0.26,"y":0.38},{"x":0.27,"y":0.37},{"x":0.28,"y":0.37},{"x":0.25,"y":0.36},{"x":0.25,"y":0.34},{"x":0.23,"y":0.36},{"x":0.25,"y":0.33},{"x":0.23,"y":0.32},{"x":0.24,"y":0.3},{"x":0.21,"y":0.4},{"x":0.21,"y":0.42},{"x":0.21,"y":0.43},{"x":0.22,"y":0.39},{"x":0.19,"y":0.31},{"x":0.1,"y":0.33},{"x":0.07,"y":0.3},{"x":0.09,"y":0.29},{"x":0.07,"y":0.28},{"x":0.09,"y":0.27},{"x":0.1,"y":0.25},{"x":0.07,"y":0.26},{"x":0.07,"y":0.23},{"x":0.11,"y":0.21},{"x":0.08,"y":0.2},{"x":0.15,"y":0.28},{"x":0.15,"y":0.27},{"x":0.17,"y":0.26},{"x":0.18,"y":0.28},{"x":0.17,"y":0.24},{"x":0.17,"y":0.24},{"x":0.34,"y":0.26},{"x":0.34,"y":0.24},{"x":0.34,"y":0.23},{"x":0.33,"y":0.21},{"x":0.32,"y":0.2},{"x":0.31,"y":0.17},{"x":0.31,"y":0.2},{"x":0.29,"y":0.16},{"x":0.24,"y":0.21},{"x":0.24,"y":0.18},{"x":0.28,"y":0.21},{"x":0.2,"y":0.16},{"x":0.19,"y":0.15},{"x":0.14,"y":0.14},{"x":0.16,"y":0.13},{"x":0.18,"y":0.12},{"x":0.19,"y":0.1},{"x":0.2,"y":0.11},{"x":0.16,"y":0.09},{"x":0.02,"y":0.19},{"x":0.03,"y":0.18},{"x":0.04,"y":0.17},{"x":0.01,"y":0.17},{"x":0.02,"y":0.15},{"x":0.03,"y":0.13},{"x":0.02,"y":0.12},{"x":0.04,"y":0.12},{"x":0.06,"y":0.13},{"x":0.05,"y":0.12},{"x":0.06,"y":0.11},{"x":0.06,"y":0.1},{"x":0.09,"y":0.08},{"x":0.1,"y":0.07},{"x":0.11,"y":0.07},{"x":0.13,"y":0.07},{"x":0.12,"y":0.05},{"x":0.04,"y":0.05},{"x":0.07,"y":0.05},{"x":0.06,"y":0.03},{"x":0.07,"y":0.03},{"x":0.1,"y":0.02},{"x":0.11,"y":0.02},{"x":0.12,"y":0.02},{"x":0.13,"y":0.01},{"x":0.12,"y":0.01},{"x":0.2,"y":0.04},{"x":0.21,"y":0.04},{"x":0.22,"y":0.07},{"x":0.22,"y":0.07},{"x":0.26,"y":0.09},{"x":0.28,"y":0.09},{"x":0.31,"y":0.11},{"x":0.31,"y":0.08},{"x":0.3,"y":0.06},{"x":0.36,"y":0.09},{"x":0.37,"y":0.06},{"x":0.39,"y":0.05},{"x":0.38,"y":0.04},{"x":0.4,"y":0.01},{"x":0.43,"y":0.01},{"x":0.43,"y":0.07},{"x":0.45,"y":0.12}],
"s34":[{"x":0.97,"y":1},{"x":0.97,"y":0.99},{"x":0.96,"y":0.99},{"x":0.94,"y":0.98},{"x":0.93,"y":0.98},{"x":0.9,"y":0.98},{"x":0.92,"y":0.97},{"x":0.94,"y":0.97},{"x":0.98,"y":0.96},{"x":0.9,"y":0.96},{"x":0.88,"y":0.96},{"x":0.91,"y":0.95},{"x":0.94,"y":0.95},{"x":0.85,"y":0.95},{"x":0.84,"y":0.93},{"x":0.87,"y":0.93},{"x":0.9,"y":0.93},{"x":0.92,"y":0.92},{"x":0.94,"y":0.91},{"x":0.95,"y":0.93},{"x":0.83,"y":0.92},{"x":0.85,"y":0.91},{"x":0.87,"y":0.9},{"x":0.89,"y":0.9},{"x":0.86,"y":0.89},{"x":0.88,"y":0.88},{"x":0.94,"y":0.89},{"x":0.72,"y":0.96},{"x":0.78,"y":0.94},{"x":0.71,"y":0.9},{"x":0.7,"y":0.88},{"x":0.64,"y":0.89},{"x":0.64,"y":0.87},{"x":0.66,"y":0.86},{"x":0.63,"y":0.85},{"x":0.69,"y":0.85},{"x":0.8,"y":0.88},{"x":0.82,"y":0.87},{"x":0.83,"y":0.86},{"x":0.8,"y":0.86},{"x":0.86,"y":0.84},{"x":0.73,"y":0.84},{"x":0.75,"y":0.83},{"x":0.79,"y":0.83},{"x":0.795,"y":0.83},{"x":0.81,"y":0.82},{"x":0.78,"y":0.8},{"x":0.83,"y":0.81},{"x":0.86,"y":0.8},{"x":0.7,"y":0.79},{"x":0.705,"y":0.79},{"x":0.82,"y":0.78},{"x":0.81,"y":0.78},{"x":0.85,"y":0.77},{"x":0.84,"y":0.75},{"x":0.79,"y":0.76},{"x":0.65,"y":0.82},{"x":0.66,"y":0.76},{"x":0.66,"y":0.73},{"x":0.69,"y":0.74},{"x":0.64,"y":0.71},{"x":0.67,"y":0.7},{"x":0.73,"y":0.77},{"x":0.75,"y":0.76},{"x":0.73,"y":0.75},{"x":0.76,"y":0.73},{"x":0.77,"y":0.73},{"x":0.89,"y":0.72},{"x":0.99,"y":0.79},{"x":0.99,"y":0.74},{"x":1,"y":0.74},{"x":0.98,"y":0.7},{"x":0.97,"y":0.66},{"x":0.97,"y":0.65},{"x":0.91,"y":0.68},{"x":0.91,"y":0.66},{"x":0.92,"y":0.63},{"x":0.91,"y":0.6},{"x":0.98,"y":0.62},{"x":0.99,"y":0.59},{"x":0.81,"y":0.7},{"x":0.82,"y":0.68},{"x":0.77,"y":0.68},{"x":0.78,"y":0.675},{"x":0.77,"y":0.57},{"x":0.82,"y":0.55},{"x":0.78,"y":0.62},{"x":0.75,"y":0.6},{"x":0.76,"y":0.59},{"x":0.59,"y":0.67},{"x":0.62,"y":0.66},{"x":0.59,"y":0.63},{"x":0.63,"y":0.61},{"x":0.67,"y":0.65},{"x":0.65,"y":0.62},{"x":0.76,"y":0.52},{"x":0.75,"y":0.45},{"x":0.73,"y":0.43},{"x":0.45,"y":0.84},{"x":0.51,"y":0.83},{"x":0.46,"y":0.82},{"x":0.47,"y":0.81},{"x":0.49,"y":0.8},{"x":0.5,"y":0.75},{"x":0.48,"y":0.7},{"x":0.5,"y":0.69},{"x":0.37,"y":0.78},{"x":0.41,"y":0.76},{"x":0.4,"y":0.74},{"x":0.41,"y":0.73},{"x":0.39,"y":0.72},{"x":0.39,"y":0.71},{"x":0.38,"y":0.7},{"x":0.44,"y":0.67},{"x":0.43,"y":0.64},{"x":0.46,"y":0.66},{"x":0.45,"y":0.63},{"x":0.425,"y":0.64},{"x":0.51,"y":0.63},{"x":0.33,"y":0.64},{"x":0.35,"y":0.64},{"x":0.37,"y":0.61},{"x":0.4,"y":0.61},{"x":0.42,"y":0.59},{"x":0.43,"y":0.57},{"x":0.46,"y":0.59},{"x":0.48,"y":0.59},{"x":0.35,"y":0.58},{"x":0.36,"y":0.58},{"x":0.4,"y":0.53},{"x":0.46,"y":0.53},{"x":0.51,"y":0.54},{"x":0.52,"y":0.52},{"x":0.51,"y":0.5},{"x":0.5,"y":0.5},{"x":0.58,"y":0.53},{"x":0.6,"y":0.53},{"x":0.61,"y":0.58},{"x":0.62,"y":0.56},{"x":0.64,"y":0.56},{"x":0.66,"y":0.55},{"x":0.61,"y":0.55},{"x":0.67,"y":0.52},{"x":0.59,"y":0.51},{"x":0.6,"y":0.5},{"x":0.58,"y":0.49},{"x":0.61,"y":0.5},{"x":0.61,"y":0.49},{"x":0.63,"y":0.49},{"x":0.6,"y":0.48},{"x":0.67,"y":0.48},{"x":0.67,"y":0.47},{"x":0.68,"y":0.44},{"x":0.69,"y":0.42},{"x":0.73,"y":0.43},{"x":0.72,"y":0.39},{"x":0.71,"y":0.37},{"x":0.75,"y":0.45},{"x":0.56,"y":0.56},{"x":0.54,"y":0.43},{"x":0.56,"y":0.43},{"x":0.58,"y":0.43},{"x":0.59,"y":0.44},{"x":0.55,"y":0.41},{"x":0.56,"y":0.41},{"x":0.57,"y":0.4},{"x":0.57,"y":0.39},{"x":0.54,"y":0.38},{"x":0.55,"y":0.38},{"x":0.56,"y":0.36},{"x":0.53,"y":0.33},{"x":0.53,"y":0.3},{"x":0.53,"y":0.26},{"x":0.55,"y":0.24},{"x":0.52,"y":0.24},{"x":0.49,"y":0.23},{"x":0.48,"y":0.21},{"x":0.47,"y":0.2},{"x":0.45,"y":0.21},{"x":0.45,"y":0.25},{"x":0.54,"y":0.2},{"x":0.54,"y":0.18},{"x":0.68,"y":0.34},{"x":0.69,"y":0.34},{"x":0.68,"y":0.32},{"x":0.69,"y":0.3},{"x":0.7,"y":0.28},{"x":0.72,"y":0.33},{"x":0.28,"y":0.53},{"x":0.24,"y":0.5},{"x":0.31,"y":0.51},{"x":0.33,"y":0.51},{"x":0.32,"y":0.46},{"x":0.32,"y":0.45},{"x":0.31,"y":0.4},{"x":0.34,"y":0.4},{"x":0.36,"y":0.36},{"x":0.37,"y":0.37},{"x":0.42,"y":0.4},{"x":0.41,"y":0.37},{"x":0.43,"y":0.42},{"x":0.47,"y":0.48},{"x":0.49,"y":0.47},{"x":0.48,"y":0.47},{"x":0.15,"y":0.46},{"x":0.19,"y":0.45},{"x":0.14,"y":0.43},{"x":0.12,"y":0.42},{"x":0.16,"y":0.42},{"x":0.07,"y":0.39},{"x":0.04,"y":0.38},{"x":0.1,"y":0.37},{"x":0.02,"y":0.36},{"x":0.01,"y":0.33},{"x":0.02,"y":0.32},{"x":0.01,"y":0.31},{"x":0.01,"y":0.29},{"x":0,"y":0.29},{"x":0.04,"y":0.29},{"x":0.03,"y":0.28},{"x":0.04,"y":0.26},{"x":0.03,"y":0.21},{"x":0.04,"y":0.21},{"x":0.08,"y":0.26},{"x":0.09,"y":0.25},{"x":0.13,"y":0.31},{"x":0.14,"y":0.35},{"x":0.15,"y":0.35},{"x":0.15,"y":0.34},{"x":0.17,"y":0.32},{"x":0.16,"y":0.3},{"x":0.18,"y":0.29},{"x":0.18,"y":0.28},{"x":0.2,"y":0.31},{"x":0.2,"y":0.28},{"x":0.29,"y":0.32},{"x":0.29,"y":0.27},{"x":0.29,"y":0.26},{"x":0.28,"y":0.24},{"x":0.31,"y":0.23},{"x":0.28,"y":0.23},{"x":0.27,"y":0.2},{"x":0.28,"y":0.22},{"x":0.24,"y":0.24},{"x":0.25,"y":0.22},{"x":0.19,"y":0.22},{"x":0.2,"y":0.21},{"x":0.17,"y":0.24},{"x":0.11,"y":0.19},{"x":0.115,"y":0.19},{"x":0.16,"y":0.17},{"x":0.18,"y":0.16},{"x":0.18,"y":0.16},{"x":0.23,"y":0.17},{"x":0.22,"y":0.17},{"x":0.26,"y":0.18},{"x":0.29,"y":0.16},{"x":0.25,"y":0.14},{"x":0.26,"y":0.13},{"x":0.25,"y":0.13},{"x":0.27,"y":0.12},{"x":0.24,"y":0.11},{"x":0.22,"y":0.13},{"x":0.21,"y":0.09},{"x":0.21,"y":0.08},{"x":0.22,"y":0.07},{"x":0.21,"y":0.07},{"x":0.22,"y":0.06},{"x":0.21,"y":0.04},{"x":0.05,"y":0.14},{"x":0.06,"y":0.14},{"x":0.04,"y":0.12},{"x":0.06,"y":0.1},{"x":0.07,"y":0.08},{"x":0.05,"y":0.08},{"x":0.06,"y":0.07},{"x":0.07,"y":0.06},{"x":0.07,"y":0.05},{"x":0.1,"y":0.13},{"x":0.1,"y":0.11},{"x":0.12,"y":0.12},{"x":0.14,"y":0.13},{"x":0.12,"y":0.09},{"x":0.12,"y":0.08},{"x":0.13,"y":0.06},{"x":0.1,"y":0.06},{"x":0.12,"y":0.05},{"x":0.25,"y":0.03},{"x":0.25,"y":0.01},{"x":0.27,"y":0.04},{"x":0.28,"y":0.05},{"x":0.27,"y":0.03},{"x":0.31,"y":0.04},{"x":0.31,"y":0.03},{"x":0.32,"y":0.03},{"x":0.31,"y":0.02},{"x":0.34,"y":0.02},{"x":0.34,"y":0.01},{"x":0.34,"y":0},{"x":0.3,"y":0.02},{"x":0.38,"y":0.15},{"x":0.39,"y":0.16},{"x":0.4,"y":0.16},{"x":0.38,"y":0.13},{"x":0.37,"y":0.11},{"x":0.36,"y":0.11},{"x":0.42,"y":0.17},{"x":0.43,"y":0.17},{"x":0.44,"y":0.15},{"x":0.07,"y":0.6},{"x":0.08,"y":0.56},{"x":0.07,"y":0.71},{"x":0.09,"y":0.78},{"x":0.37,"y":0.3},{"x":0.36,"y":0.36}],
"c21":[{"s":"a","x":0.483,"y":0.627},{"s":"a","x":0.438,"y":0.6},{"s":"a","x":0.404,"y":0.556},{"s":"a","x":0.38,"y":0.497},{"s":"a","x":0.367,"y":0.446},{"s":"a","x":0.371,"y":0.402},{"s":"a","x":0.404,"y":0.375},{"s":"a","x":0.438,"y":0.372},{"s":"a","x":0.496,"y":0.384},{"s":"a","x":0.545,"y":0.41},{"s":"a","x":0.587,"y":0.454},{"s":"a","x":0.62,"y":0.505},{"s":"a","x":0.636,"y":0.556},{"s":"a","x":0.632,"y":0.585},{"s":"a","x":0.621,"y":0.608},
{"s":"b","x":0.537,"y":0.751},{"s":"b","x":0.479,"y":0.738},{"s":"b","x":0.413,"y":0.702},{"s":"b","x":0.363,"y":0.647},{"s":"b","x":0.313,"y":0.585},{"s":"b","x":0.255,"y":0.505},{"s":"b","x":0.226,"y":0.424},{"s":"b","x":0.222,"y":0.351},{"s":"b","x":0.239,"y":0.293},{"s":"b","x":0.28,"y":0.242},{"s":"b","x":0.355,"y":0.22},{"s":"b","x":0.413,"y":0.227},{"s":"b","x":0.496,"y":0.264},{"s":"b","x":0.578,"y":0.308},{"s":"b","x":0.645,"y":0.359},{"s":"b","x":0.694,"y":0.424},{"s":"b","x":0.727,"y":0.49},{"s":"b","x":0.748,"y":0.57},{"s":"b","x":0.756,"y":0.644},{"s":"b","x":0.752,"y":0.695},{"s":"b","x":0.723,"y":0.739},
{"s":"c","x":0.212,"y":0.068},{"s":"c","x":0.148,"y":0.096},{"s":"c","x":0.098,"y":0.154},{"s":"c","x":0.069,"y":0.227},{"s":"c","x":0.055,"y":0.315},{"s":"c","x":0.055,"y":0.388},{"s":"c","x":0.065,"y":0.46},{"s":"c","x":0.09,"y":0.526},{"s":"c","x":0.131,"y":0.578},{"s":"c","x":0.197,"y":0.643},{"s":"c","x":0.264,"y":0.709},{"s":"c","x":0.33,"y":0.775},{"s":"c","x":0.396,"y":0.826},{"s":"c","x":0.471,"y":0.863},{"s":"c","x":0.537,"y":0.899},{"s":"c","x":0.603,"y":0.936},{"s":"c","x":0.67,"y":0.963},
{"s":"d","x":0.752,"y":0.963},{"s":"d","x":0.759,"y":0.959},
{"s":"e","x":0.898,"y":0.875},{"s":"e","x":0.926,"y":0.84},{"s":"e","x":0.947,"y":0.803},{"s":"e","x":0.955,"y":0.785},
{"s":"f","x":0.955,"y":0.681},{"s":"f","x":0.943,"y":0.643},{"s":"f","x":0.91,"y":0.585},{"s":"f","x":0.877,"y":0.519},{"s":"f","x":0.844,"y":0.453},{"s":"f","x":0.802,"y":0.38},{"s":"f","x":0.744,"y":0.307},{"s":"f","x":0.661,"y":0.242},{"s":"f","x":0.578,"y":0.176},{"s":"f","x":0.529,"y":0.132},{"s":"f","x":0.479,"y":0.096},{"s":"f","x":0.429,"y":0.07},{"s":"f","x":0.388,"y":0.058}],
"l21":[{"t":"0.1","x":0.549,"y":0.616,"a":5},{"t":"0.05","x":0.626,"y":0.744,"a":2},{"t":"0.01","x":0.825,"y":0.917,"a":33},{"t":"0.01","x":0.297,"y":0.064,"a":2}],
"c31":[{"s":"a","x":0.379,"y":0.383},{"s":"a","x":0.368,"y":0.435},{"s":"a","x":0.375,"y":0.498},{"s":"a","x":0.403,"y":0.546},{"s":"a","x":0.444,"y":0.595},{"s":"a","x":0.498,"y":0.626},{"s":"a","x":0.553,"y":0.636},{"s":"a","x":0.594,"y":0.629},{"s":"a","x":0.621,"y":0.602},{"s":"a","x":0.635,"y":0.56},{"s":"a","x":0.628,"y":0.505},{"s":"a","x":0.607,"y":0.456},{"s":"a","x":0.573,"y":0.415},{"s":"a","x":0.523,"y":0.374},
{"s":"b","x":0.56,"y":0.75},{"s":"b","x":0.485,"y":0.726},{"s":"b","x":0.416,"y":0.684},{"s":"b","x":0.348,"y":0.629},{"s":"b","x":0.293,"y":0.574},{"s":"b","x":0.266,"y":0.505},{"s":"b","x":0.252,"y":0.421},{"s":"b","x":0.252,"y":0.352},{"s":"b","x":0.266,"y":0.283},{"s":"b","x":0.307,"y":0.234},{"s":"b","x":0.368,"y":0.216},{"s":"b","x":0.43,"y":0.224},{"s":"b","x":0.512,"y":0.255},{"s":"b","x":0.594,"y":0.311},{"s":"b","x":0.662,"y":0.38},{"s":"b","x":0.71,"y":0.449},{"s":"b","x":0.737,"y":0.518},{"s":"b","x":0.751,"y":0.594},{"s":"b","x":0.757,"y":0.671},{"s":"b","x":0.751,"y":0.712},{"s":"b","x":0.737,"y":0.742},
{"s":"c","x":0.364,"y":0.79},{"s":"c","x":0.443,"y":0.837},{"s":"c","x":0.525,"y":0.885},{"s":"c","x":0.594,"y":0.93},{"s":"c","x":0.648,"y":0.958},{"s":"c","x":0.673,"y":0.966},
{"s":"d","x":0.778,"y":0.967},{"s":"d","x":0.782,"y":0.963},
{"s":"e","x":0.912,"y":0.875},{"s":"e","x":0.935,"y":0.844},{"s":"e","x":0.949,"y":0.816},{"s":"e","x":0.958,"y":0.794},
{"s":"f","x":0.958,"y":0.683},{"s":"f","x":0.942,"y":0.643},{"s":"f","x":0.907,"y":0.574},{"s":"f","x":0.867,"y":0.498},{"s":"f","x":0.826,"y":0.436},{"s":"f","x":0.785,"y":0.366},{"s":"f","x":0.73,"y":0.297},{"s":"f","x":0.648,"y":0.234},{"s":"f","x":0.58,"y":0.172},{"s":"f","x":0.525,"y":0.12},
{"s":"g","x":0.218,"y":0.712},{"s":"g","x":0.17,"y":0.685},{"s":"g","x":0.13,"y":0.643},{"s":"g","x":0.102,"y":0.595},{"s":"g","x":0.089,"y":0.525},{"s":"g","x":0.075,"y":0.449},{"s":"g","x":0.068,"y":0.352},{"s":"g","x":0.075,"y":0.283},{"s":"g","x":0.102,"y":0.214},{"s":"g","x":0.143,"y":0.144},{"s":"g","x":0.198,"y":0.082},{"s":"g","x":0.273,"y":0.039}],
"l31":[{"t":"0.1","x":0.446,"y":0.378,"a":0},{"t":"0.05","x":0.648,"y":0.745,"a":0},{"t":"0.01","x":0.839,"y":0.92,"a":38},{"t":"0.01","x":0.291,"y":0.745,"a":-29},{"t":"0.01","x":0.45,"y":0.082,"a":-34}],
"c32":[{"s":"a","x":0.342,"y":0.39},{"s":"a","x":0.337,"y":0.435},{"s":"a","x":0.346,"y":0.49},{"s":"a","x":0.38,"y":0.56},{"s":"a","x":0.435,"y":0.616},{"s":"a","x":0.503,"y":0.653},{"s":"a","x":0.565,"y":0.665},{"s":"a","x":0.613,"y":0.657},{"s":"a","x":0.64,"y":0.63},{"s":"a","x":0.651,"y":0.574},{"s":"a","x":0.64,"y":0.518},{"s":"a","x":0.613,"y":0.463},{"s":"a","x":0.572,"y":0.422},{"s":"a","x":0.524,"y":0.387},{"s":"a","x":0.49,"y":0.377},
{"s":"b","x":0.244,"y":0.255},{"s":"b","x":0.21,"y":0.297},{"s":"b","x":0.196,"y":0.352},{"s":"b","x":0.203,"y":0.421},{"s":"b","x":0.23,"y":0.49},{"s":"b","x":0.271,"y":0.56},{"s":"b","x":0.326,"y":0.629},{"s":"b","x":0.394,"y":0.698},{"s":"b","x":0.49,"y":0.754},{"s":"b","x":0.585,"y":0.785},{"s":"b","x":0.667,"y":0.795},{"s":"b","x":0.729,"y":0.789},{"s":"b","x":0.77,"y":0.761},{"s":"b","x":0.788,"y":0.712},{"s":"b","x":0.783,"y":0.643},{"s":"b","x":0.763,"y":0.574},{"s":"b","x":0.722,"y":0.491},{"s":"b","x":0.667,"y":0.408},{"s":"b","x":0.599,"y":0.331},{"s":"b","x":0.517,"y":0.276},{"s":"b","x":0.419,"y":0.239},
{"s":"c","x":0.037,"y":0.366},{"s":"c","x":0.066,"y":0.421},{"s":"c","x":0.121,"y":0.49},{"s":"c","x":0.19,"y":0.566},{"s":"c","x":0.258,"y":0.642},{"s":"c","x":0.326,"y":0.719},{"s":"c","x":0.408,"y":0.788},{"s":"c","x":0.503,"y":0.843},{"s":"c","x":0.62,"y":0.92},
{"s":"d","x":0.79,"y":0.966},{"s":"d","x":0.845,"y":0.963},{"s":"d","x":0.9,"y":0.941},{"s":"d","x":0.934,"y":0.892},{"s":"d","x":0.947,"y":0.823},{"s":"d","x":0.947,"y":0.733},{"s":"d","x":0.934,"y":0.65},{"s":"d","x":0.9,"y":0.56},{"s":"d","x":0.859,"y":0.491},{"s":"d","x":0.804,"y":0.421},{"s":"d","x":0.736,"y":0.352},{"s":"d","x":0.668,"y":0.283},{"s":"d","x":0.599,"y":0.214},{"s":"d","x":0.524,"y":0.12},
{"s":"e","x":0.037,"y":0.227},{"s":"e","x":0.066,"y":0.179},{"s":"e","x":0.114,"y":0.13},{"s":"e","x":0.176,"y":0.094}],
"l32":[{"t":"0.1","x":0.411,"y":0.38,"a":0},{"t":"0.05","x":0.329,"y":0.245,"a":3},{"t":"0.01","x":0.701,"y":0.941,"a":-26},{"t":"0.01","x":0.449,"y":0.078,"a":-34},{"t":"0.01","x":0.251,"y":0.068,"a":38}],
"c41":[{"s":"a","x":0.479,"y":0.609},{"s":"a","x":0.431,"y":0.569},{"s":"a","x":0.409,"y":0.522},{"s":"a","x":0.4,"y":0.459},{"s":"a","x":0.409,"y":0.42},{"s":"a","x":0.453,"y":0.392},{"s":"a","x":0.508,"y":0.388},{"s":"a","x":0.562,"y":0.404},{"s":"a","x":0.606,"y":0.435},{"s":"a","x":0.635,"y":0.491},{"s":"a","x":0.639,"y":0.538},{"s":"a","x":0.628,"y":0.587},
{"s":"b","x":0.54,"y":0.743},{"s":"b","x":0.453,"y":0.719},{"s":"b","x":0.387,"y":0.679},{"s":"b","x":0.333,"y":0.624},{"s":"b","x":0.278,"y":0.546},{"s":"b","x":0.245,"y":0.467},{"s":"b","x":0.23,"y":0.388},{"s":"b","x":0.234,"y":0.325},{"s":"b","x":0.267,"y":0.27},{"s":"b","x":0.322,"y":0.231},{"s":"b","x":0.376,"y":0.211},{"s":"b","x":0.431,"y":0.219},{"s":"b","x":0.497,"y":0.246},{"s":"b","x":0.562,"y":0.286},{"s":"b","x":0.639,"y":0.333},{"s":"b","x":0.694,"y":0.388},{"s":"b","x":0.737,"y":0.467},{"s":"b","x":0.755,"y":0.546},{"s":"b","x":0.759,"y":0.624},{"s":"b","x":0.755,"y":0.695},{"s":"b","x":0.726,"y":0.733},
{"s":"c","x":0.54,"y":0.941},{"s":"c","x":0.486,"y":0.912},{"s":"c","x":0.431,"y":0.861},{"s":"c","x":0.344,"y":0.782},{"s":"c","x":0.256,"y":0.703},{"s":"c","x":0.158,"y":0.628},{"s":"c","x":0.103,"y":0.569},{"s":"c","x":0.07,"y":0.506},{"s":"c","x":0.048,"y":0.428},{"s":"c","x":0.044,"y":0.349},{"s":"c","x":0.059,"y":0.27},{"s":"c","x":0.103,"y":0.207},{"s":"c","x":0.168,"y":0.152},{"s":"c","x":0.234,"y":0.097},{"s":"c","x":0.326,"y":0.039},
{"s":"d","x":0.72,"y":0.934},{"s":"d","x":0.803,"y":0.916},{"s":"d","x":0.88,"y":0.876},{"s":"d","x":0.934,"y":0.821},{"s":"d","x":0.961,"y":0.774},
{"s":"e","x":0.961,"y":0.656},{"s":"e","x":0.934,"y":0.585},{"s":"e","x":0.891,"y":0.506},{"s":"e","x":0.847,"y":0.428},{"s":"e","x":0.792,"y":0.325},
{"s":"f","x":0.672,"y":0.231},{"s":"f","x":0.628,"y":0.191},{"s":"f","x":0.584,"y":0.144},{"s":"f","x":0.54,"y":0.097},{"s":"f","x":0.497,"y":0.061},{"s":"f","x":0.449,"y":0.039}],
"l41":[{"t":"0.1","x":0.551,"y":0.597,"a":10},{"t":"0.05","x":0.628,"y":0.736,"a":0},{"t":"0.01","x":0.628,"y":0.938,"a":0},{"t":"0.01","x":0.726,"y":0.282,"a":-43}],
"c42":[{"s":"a","x":0.376,"y":0.404},{"s":"a","x":0.348,"y":0.435},{"s":"a","x":0.339,"y":0.483},{"s":"a","x":0.354,"y":0.522},{"s":"a","x":0.409,"y":0.573},{"s":"a","x":0.497,"y":0.62},{"s":"a","x":0.584,"y":0.648},{"s":"a","x":0.628,"y":0.646},{"s":"a","x":0.656,"y":0.617},{"s":"a","x":0.663,"y":0.569},{"s":"a","x":0.639,"y":0.506},{"s":"a","x":0.606,"y":0.459},{"s":"a","x":0.562,"y":0.412},{"s":"a","x":0.492,"y":0.37},
{"s":"b","x":0.584,"y":0.768},{"s":"b","x":0.519,"y":0.743},{"s":"b","x":0.431,"y":0.695},{"s":"b","x":0.344,"y":0.64},{"s":"b","x":0.267,"y":0.569},{"s":"b","x":0.234,"y":0.506},{"s":"b","x":0.223,"y":0.428},{"s":"b","x":0.234,"y":0.349},{"s":"b","x":0.267,"y":0.286},{"s":"b","x":0.311,"y":0.243},{"s":"b","x":0.354,"y":0.223},{"s":"b","x":0.431,"y":0.227},{"s":"b","x":0.519,"y":0.254},{"s":"b","x":0.584,"y":0.302},{"s":"b","x":0.65,"y":0.372},{"s":"b","x":0.716,"y":0.459},{"s":"b","x":0.77,"y":0.53},{"s":"b","x":0.799,"y":0.601},{"s":"b","x":0.799,"y":0.68},{"s":"b","x":0.781,"y":0.727},{"s":"b","x":0.77,"y":0.748},
{"s":"c","x":0.606,"y":0.938},{"s":"c","x":0.54,"y":0.92},{"s":"c","x":0.497,"y":0.884},{"s":"c","x":0.453,"y":0.837},{"s":"c","x":0.409,"y":0.782},{"s":"c","x":0.344,"y":0.719},{"s":"c","x":0.256,"y":0.648},{"s":"c","x":0.168,"y":0.585},{"s":"c","x":0.103,"y":0.506},{"s":"c","x":0.059,"y":0.428},{"s":"c","x":0.042,"y":0.369},
{"s":"d","x":0.042,"y":0.286},{"s":"d","x":0.055,"y":0.231},{"s":"d","x":0.092,"y":0.183},{"s":"d","x":0.147,"y":0.136},{"s":"d","x":0.212,"y":0.097},{"s":"d","x":0.239,"y":0.077},
{"s":"e","x":0.42,"y":0.064},{"s":"e","x":0.497,"y":0.081},{"s":"e","x":0.562,"y":0.113},{"s":"e","x":0.628,"y":0.16},{"s":"e","x":0.694,"y":0.231},{"s":"e","x":0.748,"y":0.309},{"s":"e","x":0.792,"y":0.388},{"s":"e","x":0.847,"y":0.459},{"s":"e","x":0.912,"y":0.546},{"s":"e","x":0.956,"y":0.617},{"s":"e","x":0.961,"y":0.695},
{"s":"f","x":0.777,"y":0.93},{"s":"f","x":0.847,"y":0.912},{"s":"f","x":0.912,"y":0.876},{"s":"f","x":0.956,"y":0.821},{"s":"f","x":0.961,"y":0.809}],
"l42":[{"t":"0.1","x":0.42,"y":0.379,"a":10},{"t":"0.05","x":0.685,"y":0.754,"a":3},{"t":"0.01","x":0.689,"y":0.932,"a":0},{"t":"0.01","x":0.333,"y":0.069,"a":3}],
"c43":[{"s":"a","x":0.508,"y":0.626},{"s":"a","x":0.453,"y":0.601},{"s":"a","x":0.398,"y":0.554},{"s":"a","x":0.361,"y":0.491},{"s":"a","x":0.354,"y":0.428},{"s":"a","x":0.37,"y":0.388},{"s":"a","x":0.409,"y":0.366},{"s":"a","x":0.464,"y":0.372},{"s":"a","x":0.53,"y":0.396},{"s":"a","x":0.584,"y":0.435},{"s":"a","x":0.628,"y":0.491},{"s":"a","x":0.65,"y":0.554},{"s":"a","x":0.65,"y":0.601},{"s":"a","x":0.639,"y":0.617},
{"s":"b","x":0.584,"y":0.762},{"s":"b","x":0.519,"y":0.739},{"s":"b","x":0.442,"y":0.695},{"s":"b","x":0.365,"y":0.64},{"s":"b","x":0.3,"y":0.585},{"s":"b","x":0.245,"y":0.522},{"s":"b","x":0.212,"y":0.459},{"s":"b","x":0.201,"y":0.388},{"s":"b","x":0.212,"y":0.333},{"s":"b","x":0.245,"y":0.278},{"s":"b","x":0.3,"y":0.231},{"s":"b","x":0.365,"y":0.207},{"s":"b","x":0.442,"y":0.215},{"s":"b","x":0.519,"y":0.27},{"s":"b","x":0.584,"y":0.333},{"s":"b","x":0.65,"y":0.404},{"s":"b","x":0.694,"y":0.467},{"s":"b","x":0.748,"y":0.546},{"s":"b","x":0.777,"y":0.617},{"s":"b","x":0.781,"y":0.68},{"s":"b","x":0.77,"y":0.719},{"s":"b","x":0.733,"y":0.736},
{"s":"c","x":0.573,"y":0.939},{"s":"c","x":0.519,"y":0.916},{"s":"c","x":0.475,"y":0.869},{"s":"c","x":0.431,"y":0.813},{"s":"c","x":0.365,"y":0.75},{"s":"c","x":0.289,"y":0.687},{"s":"c","x":0.212,"y":0.617},{"s":"c","x":0.125,"y":0.561},{"s":"c","x":0.07,"y":0.53},{"s":"c","x":0.042,"y":0.467},
{"s":"d","x":0.042,"y":0.329},{"s":"d","x":0.07,"y":0.27},{"s":"d","x":0.114,"y":0.215},{"s":"d","x":0.158,"y":0.168},{"s":"d","x":0.201,"y":0.12},
{"s":"e","x":0.464,"y":0.043},{"s":"e","x":0.468,"y":0.039},
{"s":"f","x":0.584,"y":0.14},{"s":"f","x":0.628,"y":0.191},{"s":"f","x":0.672,"y":0.254},{"s":"f","x":0.727,"y":0.325},{"s":"f","x":0.782,"y":0.404},{"s":"f","x":0.847,"y":0.491},{"s":"f","x":0.912,"y":0.569},{"s":"f","x":0.956,"y":0.64},{"s":"f","x":0.961,"y":0.693},
{"s":"g","x":0.705,"y":0.93},{"s":"g","x":0.77,"y":0.916},{"s":"g","x":0.847,"y":0.884},{"s":"g","x":0.912,"y":0.845},{"s":"g","x":0.956,"y":0.809}],
"l43":[{"t":"0.1","x":0.573,"y":0.62,"a":0},{"t":"0.05","x":0.676,"y":0.752,"a":3},{"t":"0.01","x":0.64,"y":0.934,"a":0},{"t":"0.01","x":0.26,"y":0.081,"a":37},{"t":"0.01","x":0.519,"y":0.091,"a":-42}]
},
"columns":4,
"spacing":0,
"bounds":"flush",
"concat":[
{"width":478,"height":565,"data":{"values":[{"label":"corn"}]},"mark":{"type":"text","font":"DejaVu Sans","fontSize":50,"align":"center","baseline":"middle","color":"black"},"encoding":{"text":{"field":"label"}}},
{"width":478,"height":565,"data":{"name":"s12"},"mark":{"type":"point","shape":"M-1,0A1,0.77,0,1,0,1,0A1,0.77,0,1,0,-1,0Z","filled":false,"stroke":"black","strokeWidth":2.1,"size":200,"opacity":1},"encoding":{"x":{"field":"x","type":"quantitative","scale":{"domain":[-0.036,1.036],"nice":false,"zero":false},"axis":{"orient":"top","values":[0,0.2,0.4,0.6,0.8,1],"format":".1f"},"title":null},"y":{"field":"y","type":"quantitative","scale":{"domain":[-0.036,1.036],"nice":false,"zero":false},"axis":null}}},
{"width":478,"height":565,"data":{"name":"s13"},"mark":{"type":"point","shape":"M-1,0A1,0.77,0,1,0,1,0A1,0.77,0,1,0,-1,0Z","filled":false,"stroke":"black","strokeWidth":2.1,"size":200,"opacity":1},"encoding":{"x":{"field":"x","type":"quantitative","scale":{"domain":[-0.036,1.036],"nice":false,"zero":false},"axis":null},"y":{"field":"y","type":"quantitative","scale":{"domain":[-0.036,1.036],"nice":false,"zero":false},"axis":null}}},
{"width":478,"height":565,"data":{"name":"s14"},"mark":{"type":"point","shape":"M-1,0A1,0.77,0,1,0,1,0A1,0.77,0,1,0,-1,0Z","filled":false,"stroke":"black","strokeWidth":2.1,"size":200,"opacity":1},"encoding":{"x":{"field":"x","type":"quantitative","scale":{"domain":[-0.036,1.036],"nice":false,"zero":false},"axis":{"orient":"top","values":[0,0.2,0.4,0.6,0.8,1],"format":".1f"},"title":null},"y":{"field":"y","type":"quantitative","scale":{"domain":[-0.036,1.036],"nice":false,"zero":false},"axis":{"orient":"right","values":[0,0.2,0.4,0.6,0.8,1],"format":".1f"},"title":null}}},
{"width":478,"height":565,"encoding":{"x":{"field":"x","type":"quantitative","scale":{"domain":[-0.036,1.036],"nice":false,"zero":false},"axis":null},"y":{"field":"y","type":"quantitative","scale":{"domain":[-0.036,1.036],"nice":false,"zero":false},"axis":{"orient":"left","values":[0,0.2,0.4,0.6,0.8,1],"format":".1f"},"title":null}},"layer":[
{"data":{"name":"c21"},"mark":{"type":"line","stroke":"black","strokeWidth":2},"encoding":{"detail":{"field":"s"},"order":{"value":null}}},
{"data":{"name":"l21"},"mark":{"type":"text","font":"DejaVu Sans","fontSize":23,"fill":"#3a3a3a"},"encoding":{"text":{"field":"t"},"angle":{"field":"a","type":"quantitative","scale":null}}}]},
{"width":478,"height":565,"data":{"values":[{"label":"dap"}]},"mark":{"type":"text","font":"DejaVu Sans","fontSize":50,"align":"center","baseline":"middle","color":"black"},"encoding":{"text":{"field":"label"}}},
{"width":478,"height":565,"data":{"name":"s23"},"mark":{"type":"point","shape":"M-1,0A1,0.77,0,1,0,1,0A1,0.77,0,1,0,-1,0Z","filled":false,"stroke":"black","strokeWidth":2.1,"size":200,"opacity":1},"encoding":{"x":{"field":"x","type":"quantitative","scale":{"domain":[-0.036,1.036],"nice":false,"zero":false},"axis":null},"y":{"field":"y","type":"quantitative","scale":{"domain":[-0.036,1.036],"nice":false,"zero":false},"axis":null}}},
{"width":478,"height":565,"data":{"name":"s24"},"mark":{"type":"point","shape":"M-1,0A1,0.77,0,1,0,1,0A1,0.77,0,1,0,-1,0Z","filled":false,"stroke":"black","strokeWidth":2.1,"size":200,"opacity":1},"encoding":{"x":{"field":"x","type":"quantitative","scale":{"domain":[-0.036,1.036],"nice":false,"zero":false},"axis":null},"y":{"field":"y","type":"quantitative","scale":{"domain":[-0.036,1.036],"nice":false,"zero":false},"axis":null}}},
{"width":478,"height":565,"encoding":{"x":{"field":"x","type":"quantitative","scale":{"domain":[-0.036,1.036],"nice":false,"zero":false},"axis":null},"y":{"field":"y","type":"quantitative","scale":{"domain":[-0.036,1.036],"nice":false,"zero":false},"axis":null}},"layer":[
{"data":{"name":"c31"},"mark":{"type":"line","stroke":"black","strokeWidth":2},"encoding":{"detail":{"field":"s"},"order":{"value":null}}},
{"data":{"name":"l31"},"mark":{"type":"text","font":"DejaVu Sans","fontSize":23,"fill":"#3a3a3a"},"encoding":{"text":{"field":"t"},"angle":{"field":"a","type":"quantitative","scale":null}}}]},
{"width":478,"height":565,"encoding":{"x":{"field":"x","type":"quantitative","scale":{"domain":[-0.036,1.036],"nice":false,"zero":false},"axis":null},"y":{"field":"y","type":"quantitative","scale":{"domain":[-0.036,1.036],"nice":false,"zero":false},"axis":null}},"layer":[
{"data":{"name":"c32"},"mark":{"type":"line","stroke":"black","strokeWidth":2},"encoding":{"detail":{"field":"s"},"order":{"value":null}}},
{"data":{"name":"l32"},"mark":{"type":"text","font":"DejaVu Sans","fontSize":23,"fill":"#3a3a3a"},"encoding":{"text":{"field":"t"},"angle":{"field":"a","type":"quantitative","scale":null}}}]},
{"width":478,"height":565,"data":{"values":[{"label":"urea"}]},"mark":{"type":"text","font":"DejaVu Sans","fontSize":50,"align":"center","baseline":"middle","color":"black"},"encoding":{"text":{"field":"label"}}},
{"width":478,"height":565,"data":{"name":"s34"},"mark":{"type":"point","shape":"M-1,0A1,0.77,0,1,0,1,0A1,0.77,0,1,0,-1,0Z","filled":false,"stroke":"black","strokeWidth":2.1,"size":200,"opacity":1},"encoding":{"x":{"field":"x","type":"quantitative","scale":{"domain":[-0.036,1.036],"nice":false,"zero":false},"axis":null},"y":{"field":"y","type":"quantitative","scale":{"domain":[-0.036,1.036],"nice":false,"zero":false},"axis":{"orient":"right","values":[0,0.2,0.4,0.6,0.8,1],"format":".1f"},"title":null}}},
{"width":478,"height":565,"encoding":{"x":{"field":"x","type":"quantitative","scale":{"domain":[-0.036,1.036],"nice":false,"zero":false},"axis":{"orient":"bottom","values":[0,0.2,0.4,0.6,0.8,1],"format":".1f"},"title":null},"y":{"field":"y","type":"quantitative","scale":{"domain":[-0.036,1.036],"nice":false,"zero":false},"axis":{"orient":"left","values":[0,0.2,0.4,0.6,0.8,1],"format":".1f"},"title":null}},"layer":[
{"data":{"name":"c41"},"mark":{"type":"line","stroke":"black","strokeWidth":2},"encoding":{"detail":{"field":"s"},"order":{"value":null}}},
{"data":{"name":"l41"},"mark":{"type":"text","font":"DejaVu Sans","fontSize":23,"fill":"#3a3a3a"},"encoding":{"text":{"field":"t"},"angle":{"field":"a","type":"quantitative","scale":null}}}]},
{"width":478,"height":565,"encoding":{"x":{"field":"x","type":"quantitative","scale":{"domain":[-0.036,1.036],"nice":false,"zero":false},"axis":null},"y":{"field":"y","type":"quantitative","scale":{"domain":[-0.036,1.036],"nice":false,"zero":false},"axis":null}},"layer":[
{"data":{"name":"c42"},"mark":{"type":"line","stroke":"black","strokeWidth":2},"encoding":{"detail":{"field":"s"},"order":{"value":null}}},
{"data":{"name":"l42"},"mark":{"type":"text","font":"DejaVu Sans","fontSize":23,"fill":"#3a3a3a"},"encoding":{"text":{"field":"t"},"angle":{"field":"a","type":"quantitative","scale":null}}}]},
{"width":478,"height":565,"encoding":{"x":{"field":"x","type":"quantitative","scale":{"domain":[-0.036,1.036],"nice":false,"zero":false},"axis":{"orient":"bottom","values":[0,0.2,0.4,0.6,0.8,1],"format":".1f"},"title":null},"y":{"field":"y","type":"quantitative","scale":{"domain":[-0.036,1.036],"nice":false,"zero":false},"axis":null}},"layer":[
{"data":{"name":"c43"},"mark":{"type":"line","stroke":"black","strokeWidth":2},"encoding":{"detail":{"field":"s"},"order":{"value":null}}},
{"data":{"name":"l43"},"mark":{"type":"text","font":"DejaVu Sans","fontSize":23,"fill":"#3a3a3a"},"encoding":{"text":{"field":"t"},"angle":{"field":"a","type":"quantitative","scale":null}}}]},
{"width":478,"height":565,"data":{"values":[{"label":"potash"}]},"mark":{"type":"text","font":"DejaVu Sans","fontSize":50,"align":"center","baseline":"middle","color":"black"},"encoding":{"text":{"field":"label"}}}
]
}
